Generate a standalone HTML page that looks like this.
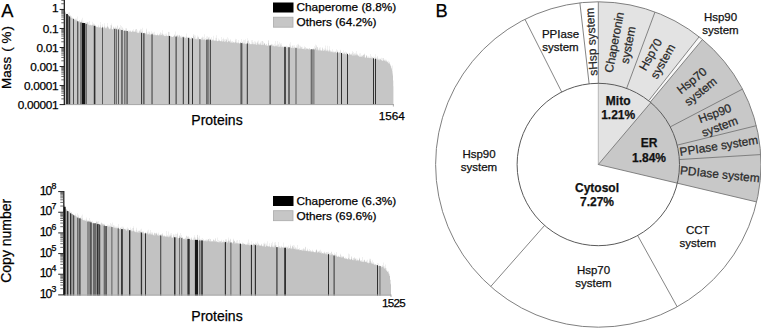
<!DOCTYPE html>
<html><head><meta charset="utf-8"><style>
html,body{margin:0;padding:0;background:#fff;width:761px;height:328px;overflow:hidden;font-family:"Liberation Sans",sans-serif}
svg{display:block} text{stroke-width:0.25px}
</style></head><body>
<svg width="761" height="328" viewBox="0 0 761 328">
<rect width="761" height="328" fill="#fff"/>
<path d="M598.30,1.80 A162.7,162.7 0 0 1 699.14,36.82 L648.63,100.78 A81.2,81.2 0 0 0 598.30,83.30 Z" fill="#e3e3e3"/><path d="M699.14,36.82 A162.7,162.7 0 0 1 702.45,39.50 L650.28,102.12 A81.2,81.2 0 0 0 648.63,100.78 Z" fill="#f8f8f8"/><path d="M702.45,39.50 A162.7,162.7 0 0 1 756.64,201.93 L677.32,183.18 A81.2,81.2 0 0 0 650.28,102.12 Z" fill="#c8c8c8"/><path d="M598.3,164.5 L598.30,83.30 A81.2,81.2 0 0 1 650.82,102.57 Z" fill="#e3e3e3"/><path d="M598.3,164.5 L650.82,102.57 A81.2,81.2 0 0 1 677.32,183.18 Z" fill="#c8c8c8"/><line x1="598.30" y1="83.30" x2="598.30" y2="1.80" stroke="#777" stroke-width="0.9"/><line x1="626.60" y1="88.39" x2="655.01" y2="12.00" stroke="#777" stroke-width="0.9"/><line x1="648.63" y1="100.78" x2="699.14" y2="36.82" stroke="#777" stroke-width="0.9"/><line x1="650.28" y1="102.12" x2="702.45" y2="39.50" stroke="#777" stroke-width="0.9"/><line x1="670.26" y1="126.88" x2="742.49" y2="89.12" stroke="#777" stroke-width="0.9"/><line x1="677.16" y1="145.13" x2="756.30" y2="125.69" stroke="#777" stroke-width="0.9"/><line x1="679.35" y1="159.54" x2="760.70" y2="154.57" stroke="#777" stroke-width="0.9"/><line x1="677.32" y1="183.18" x2="756.64" y2="201.93" stroke="#777" stroke-width="0.9"/><line x1="637.67" y1="235.52" x2="677.18" y2="306.80" stroke="#777" stroke-width="0.9"/><line x1="544.60" y1="225.41" x2="490.70" y2="286.54" stroke="#777" stroke-width="0.9"/><line x1="561.69" y1="92.02" x2="524.94" y2="19.28" stroke="#777" stroke-width="0.9"/><line x1="589.11" y1="83.82" x2="579.88" y2="2.85" stroke="#777" stroke-width="0.9"/><line x1="598.3" y1="164.5" x2="598.30" y2="83.30" stroke="#a0a0a0" stroke-width="0.7"/><line x1="598.3" y1="164.5" x2="650.82" y2="102.57" stroke="#6a6a6a" stroke-width="0.8"/><line x1="598.3" y1="164.5" x2="677.32" y2="183.18" stroke="#6a6a6a" stroke-width="0.8"/><circle cx="598.3" cy="164.5" r="162.7" fill="none" stroke="#808080" stroke-width="1"/><circle cx="598.3" cy="164.5" r="81.2" fill="none" stroke="#5a5a5a" stroke-width="1"/><g transform="translate(591.33,41.70) rotate(266.75)"><text x="0" y="4.28" text-anchor="middle" font-size="11.9" fill="#2a2a2a" stroke="#2a2a2a" font-family="Liberation Sans, sans-serif">sHsp system</text></g><g transform="translate(620.93,43.60) rotate(-79.40)"><text x="0" y="-2.72" text-anchor="middle" font-size="11.9" fill="#2a2a2a" stroke="#2a2a2a" font-family="Liberation Sans, sans-serif">Chaperonin</text><text x="0" y="11.28" text-anchor="middle" font-size="11.9" fill="#2a2a2a" stroke="#2a2a2a" font-family="Liberation Sans, sans-serif">system</text></g><g transform="translate(656.46,57.83) rotate(-60.50)"><text x="0" y="-2.72" text-anchor="middle" font-size="11.9" fill="#2a2a2a" stroke="#2a2a2a" font-family="Liberation Sans, sans-serif">Hsp70</text><text x="0" y="11.28" text-anchor="middle" font-size="11.9" fill="#2a2a2a" stroke="#2a2a2a" font-family="Liberation Sans, sans-serif">system</text></g><g transform="translate(696.03,85.92) rotate(-38.80)"><text x="0" y="-2.72" text-anchor="middle" font-size="11.9" fill="#2a2a2a" stroke="#2a2a2a" font-family="Liberation Sans, sans-serif">Hsp70</text><text x="0" y="11.28" text-anchor="middle" font-size="11.9" fill="#2a2a2a" stroke="#2a2a2a" font-family="Liberation Sans, sans-serif">system</text></g><g transform="translate(717.18,119.82) rotate(-20.60)"><text x="0" y="-2.72" text-anchor="middle" font-size="11.9" fill="#2a2a2a" stroke="#2a2a2a" font-family="Liberation Sans, sans-serif">Hsp90</text><text x="0" y="11.28" text-anchor="middle" font-size="11.9" fill="#2a2a2a" stroke="#2a2a2a" font-family="Liberation Sans, sans-serif">system</text></g><g transform="translate(718.83,145.63) rotate(-8.90)"><text x="0" y="4.28" text-anchor="middle" font-size="11.9" fill="#2a2a2a" stroke="#2a2a2a" font-family="Liberation Sans, sans-serif">PPIase system</text></g><g transform="translate(719.92,174.07) rotate(5.80)"><text x="0" y="4.28" text-anchor="middle" font-size="11.9" fill="#2a2a2a" stroke="#2a2a2a" font-family="Liberation Sans, sans-serif">PDIase system</text></g><text x="560.5" y="37.7" text-anchor="middle" font-size="11.5" fill="#111" stroke="#111" font-family="Liberation Sans, sans-serif">PPIase</text><text x="560.5" y="50.5" text-anchor="middle" font-size="11.5" fill="#111" stroke="#111" font-family="Liberation Sans, sans-serif">system</text><text x="720.5" y="20.8" text-anchor="middle" font-size="11.5" fill="#111" stroke="#111" font-family="Liberation Sans, sans-serif">Hsp90</text><text x="720.5" y="33.6" text-anchor="middle" font-size="11.5" fill="#111" stroke="#111" font-family="Liberation Sans, sans-serif">system</text><text x="479" y="157.7" text-anchor="middle" font-size="11.5" fill="#111" stroke="#111" font-family="Liberation Sans, sans-serif">Hsp90</text><text x="479" y="171.1" text-anchor="middle" font-size="11.5" fill="#111" stroke="#111" font-family="Liberation Sans, sans-serif">system</text><text x="593.5" y="273.9" text-anchor="middle" font-size="11.5" fill="#111" stroke="#111" font-family="Liberation Sans, sans-serif">Hsp70</text><text x="593.5" y="287.3" text-anchor="middle" font-size="11.5" fill="#111" stroke="#111" font-family="Liberation Sans, sans-serif">system</text><text x="697.8" y="233.9" text-anchor="middle" font-size="11.5" fill="#111" stroke="#111" font-family="Liberation Sans, sans-serif">CCT</text><text x="697.8" y="247.3" text-anchor="middle" font-size="11.5" fill="#111" stroke="#111" font-family="Liberation Sans, sans-serif">system</text><text x="618.2" y="104.7" text-anchor="middle" font-size="12" fill="#111" stroke="#111" font-weight="bold" font-family="Liberation Sans, sans-serif">Mito</text><text x="618.2" y="118.8" text-anchor="middle" font-size="12" fill="#111" stroke="#111" font-weight="bold" font-family="Liberation Sans, sans-serif">1.21%</text><text x="649" y="147.4" text-anchor="middle" font-size="12" fill="#111" stroke="#111" font-weight="bold" font-family="Liberation Sans, sans-serif">ER</text><text x="649" y="162.4" text-anchor="middle" font-size="12" fill="#111" stroke="#111" font-weight="bold" font-family="Liberation Sans, sans-serif">1.84%</text><text x="597" y="192.2" text-anchor="middle" font-size="12" fill="#111" stroke="#111" font-weight="bold" font-family="Liberation Sans, sans-serif">Cytosol</text><text x="597" y="206.4" text-anchor="middle" font-size="12" fill="#111" stroke="#111" font-weight="bold" font-family="Liberation Sans, sans-serif">7.27%</text>
<g shape-rendering="auto"><path fill="#c6c6c6" d="M64.50,105 L64.50,11.05 L64.75,11.05 L64.75,11.75 L65.00,11.75 L65.00,10.88 L65.25,10.88 L65.25,12.62 L65.50,12.62 L65.50,12.03 L65.75,12.03 L65.75,12.91 L66.00,12.91 L66.00,13.92 L66.25,13.92 L66.25,13.24 L66.50,13.24 L66.50,14.41 L66.75,14.41 L66.75,13.90 L67.00,13.90 L67.00,14.82 L67.25,14.82 L67.25,15.02 L67.50,15.02 L67.50,14.61 L67.75,14.61 L67.75,13.16 L68.00,13.16 L68.00,15.66 L68.25,15.66 L68.25,15.73 L68.50,15.73 L68.50,14.93 L68.75,14.93 L68.75,12.41 L69.00,12.41 L69.00,15.57 L69.25,15.57 L69.25,16.30 L69.50,16.30 L69.50,12.00 L69.75,12.00 L69.75,17.40 L70.00,17.40 L70.00,14.96 L70.25,14.96 L70.25,17.37 L70.50,17.37 L70.50,17.78 L70.75,17.78 L70.75,17.97 L71.00,17.97 L71.00,17.78 L71.25,17.78 L71.25,16.08 L71.50,16.08 L71.50,18.32 L71.75,18.32 L71.75,17.53 L72.00,17.53 L72.00,17.47 L72.25,17.47 L72.25,18.40 L72.50,18.40 L72.50,18.09 L72.75,18.09 L72.75,19.26 L73.00,19.26 L73.00,19.41 L73.25,19.41 L73.25,19.33 L73.50,19.33 L73.50,18.20 L73.75,18.20 L73.75,19.17 L74.00,19.17 L74.00,19.57 L74.25,19.57 L74.25,19.02 L74.50,19.02 L74.50,19.55 L74.75,19.55 L74.75,20.05 L75.00,20.05 L75.00,18.49 L75.25,18.49 L75.25,19.17 L75.50,19.17 L75.50,20.61 L75.75,20.61 L75.75,19.95 L76.00,19.95 L76.00,20.26 L76.25,20.26 L76.25,18.54 L76.50,18.54 L76.50,19.77 L76.75,19.77 L76.75,21.27 L77.00,21.27 L77.00,16.41 L77.25,16.41 L77.25,21.83 L77.50,21.83 L77.50,21.36 L77.75,21.36 L77.75,20.24 L78.00,20.24 L78.00,22.10 L78.25,22.10 L78.25,21.50 L78.50,21.50 L78.50,22.49 L78.75,22.49 L78.75,21.11 L79.00,21.11 L79.00,20.74 L79.25,20.74 L79.25,21.68 L79.50,21.68 L79.50,20.07 L79.75,20.07 L79.75,22.56 L80.00,22.56 L80.00,21.54 L80.25,21.54 L80.25,21.99 L80.50,21.99 L80.50,22.09 L80.75,22.09 L80.75,22.50 L81.00,22.50 L81.00,20.83 L81.25,20.83 L81.25,19.40 L81.50,19.40 L81.50,22.60 L81.75,22.60 L81.75,22.02 L82.00,22.02 L82.00,23.51 L82.25,23.51 L82.25,21.96 L82.50,21.96 L82.50,22.24 L82.75,22.24 L82.75,17.75 L83.00,17.75 L83.00,21.38 L83.25,21.38 L83.25,23.38 L83.50,23.38 L83.50,23.22 L83.75,23.22 L83.75,22.40 L84.00,22.40 L84.00,23.97 L84.25,23.97 L84.25,23.22 L84.50,23.22 L84.50,23.91 L84.75,23.91 L84.75,24.08 L85.00,24.08 L85.00,24.25 L85.25,24.25 L85.25,22.37 L85.50,22.37 L85.50,24.31 L85.75,24.31 L85.75,24.19 L86.00,24.19 L86.00,23.97 L86.25,23.97 L86.25,21.88 L86.50,21.88 L86.50,24.72 L86.75,24.72 L86.75,24.08 L87.00,24.08 L87.00,23.88 L87.25,23.88 L87.25,22.04 L87.50,22.04 L87.50,22.70 L87.75,22.70 L87.75,22.36 L88.00,22.36 L88.00,24.74 L88.25,24.74 L88.25,24.50 L88.50,24.50 L88.50,24.68 L88.75,24.68 L88.75,22.33 L89.00,22.33 L89.00,20.97 L89.25,20.97 L89.25,25.22 L89.50,25.22 L89.50,25.23 L89.75,25.23 L89.75,25.18 L90.00,25.18 L90.00,25.23 L90.25,25.23 L90.25,24.73 L90.50,24.73 L90.50,24.47 L90.75,24.47 L90.75,25.35 L91.00,25.35 L91.00,25.83 L91.25,25.83 L91.25,25.14 L91.50,25.14 L91.50,25.31 L91.75,25.31 L91.75,24.85 L92.00,24.85 L92.00,21.80 L92.25,21.80 L92.25,24.50 L92.50,24.50 L92.50,25.19 L92.75,25.19 L92.75,24.91 L93.00,24.91 L93.00,24.74 L93.25,24.74 L93.25,26.30 L93.50,26.30 L93.50,23.22 L93.75,23.22 L93.75,24.38 L94.00,24.38 L94.00,23.65 L94.25,23.65 L94.25,24.38 L94.50,24.38 L94.50,25.98 L94.75,25.98 L94.75,26.03 L95.00,26.03 L95.00,26.65 L95.25,26.65 L95.25,25.45 L95.50,25.45 L95.50,26.83 L95.75,26.83 L95.75,26.88 L96.00,26.88 L96.00,26.71 L96.25,26.71 L96.25,26.85 L96.50,26.85 L96.50,26.58 L96.75,26.58 L96.75,27.14 L97.00,27.14 L97.00,27.28 L97.25,27.28 L97.25,27.11 L97.50,27.11 L97.50,27.25 L97.75,27.25 L97.75,26.83 L98.00,26.83 L98.00,27.48 L98.25,27.48 L98.25,24.68 L98.50,24.68 L98.50,26.31 L98.75,26.31 L98.75,27.47 L99.00,27.47 L99.00,27.35 L99.25,27.35 L99.25,27.22 L99.50,27.22 L99.50,27.25 L99.75,27.25 L99.75,27.76 L100.00,27.76 L100.00,25.35 L100.25,25.35 L100.25,22.03 L100.50,22.03 L100.50,27.18 L100.75,27.18 L100.75,27.16 L101.00,27.16 L101.00,27.99 L101.25,27.99 L101.25,28.00 L101.50,28.00 L101.50,27.59 L101.75,27.59 L101.75,27.78 L102.00,27.78 L102.00,25.77 L102.25,25.77 L102.25,28.02 L102.50,28.02 L102.50,28.27 L102.75,28.27 L102.75,24.11 L103.00,24.11 L103.00,27.31 L103.25,27.31 L103.25,28.17 L103.50,28.17 L103.50,27.32 L103.75,27.32 L103.75,28.41 L104.00,28.41 L104.00,27.43 L104.25,27.43 L104.25,23.13 L104.50,23.13 L104.50,25.75 L104.75,25.75 L104.75,26.90 L105.00,26.90 L105.00,28.18 L105.25,28.18 L105.25,28.00 L105.50,28.00 L105.50,28.41 L105.75,28.41 L105.75,26.64 L106.00,26.64 L106.00,27.68 L106.25,27.68 L106.25,26.66 L106.50,26.66 L106.50,28.25 L106.75,28.25 L106.75,28.49 L107.00,28.49 L107.00,26.54 L107.25,26.54 L107.25,23.04 L107.50,23.04 L107.50,26.27 L107.75,26.27 L107.75,26.69 L108.00,26.69 L108.00,26.63 L108.25,26.63 L108.25,27.17 L108.50,27.17 L108.50,28.73 L108.75,28.73 L108.75,28.10 L109.00,28.10 L109.00,28.54 L109.25,28.54 L109.25,29.15 L109.50,29.15 L109.50,29.19 L109.75,29.19 L109.75,28.81 L110.00,28.81 L110.00,28.88 L110.25,28.88 L110.25,27.68 L110.50,27.68 L110.50,24.97 L110.75,24.97 L110.75,28.56 L111.00,28.56 L111.00,25.55 L111.25,25.55 L111.25,23.45 L111.50,23.45 L111.50,25.14 L111.75,25.14 L111.75,28.88 L112.00,28.88 L112.00,29.19 L112.25,29.19 L112.25,29.21 L112.50,29.21 L112.50,29.29 L112.75,29.29 L112.75,29.31 L113.00,29.31 L113.00,28.29 L113.25,28.29 L113.25,26.46 L113.50,26.46 L113.50,27.15 L113.75,27.15 L113.75,28.84 L114.00,28.84 L114.00,28.30 L114.25,28.30 L114.25,27.56 L114.50,27.56 L114.50,29.72 L114.75,29.72 L114.75,28.36 L115.00,28.36 L115.00,26.53 L115.25,26.53 L115.25,27.80 L115.50,27.80 L115.50,28.02 L115.75,28.02 L115.75,29.08 L116.00,29.08 L116.00,29.74 L116.25,29.74 L116.25,27.87 L116.50,27.87 L116.50,29.51 L116.75,29.51 L116.75,27.85 L117.00,27.85 L117.00,25.15 L117.25,25.15 L117.25,29.46 L117.50,29.46 L117.50,29.48 L117.75,29.48 L117.75,26.12 L118.00,26.12 L118.00,28.45 L118.25,28.45 L118.25,30.03 L118.50,30.03 L118.50,30.13 L118.75,30.13 L118.75,30.12 L119.00,30.12 L119.00,27.09 L119.25,27.09 L119.25,28.11 L119.50,28.11 L119.50,30.22 L119.75,30.22 L119.75,28.02 L120.00,28.02 L120.00,25.00 L120.25,25.00 L120.25,29.06 L120.50,29.06 L120.50,30.01 L120.75,30.01 L120.75,29.55 L121.00,29.55 L121.00,30.52 L121.25,30.52 L121.25,30.75 L121.50,30.75 L121.50,25.88 L121.75,25.88 L121.75,29.42 L122.00,29.42 L122.00,29.89 L122.25,29.89 L122.25,27.20 L122.50,27.20 L122.50,30.25 L122.75,30.25 L122.75,28.23 L123.00,28.23 L123.00,28.71 L123.25,28.71 L123.25,30.88 L123.50,30.88 L123.50,30.86 L123.75,30.86 L123.75,30.84 L124.00,30.84 L124.00,30.99 L124.25,30.99 L124.25,30.20 L124.50,30.20 L124.50,31.07 L124.75,31.07 L124.75,30.78 L125.00,30.78 L125.00,31.40 L125.25,31.40 L125.25,28.26 L125.50,28.26 L125.50,31.06 L125.75,31.06 L125.75,30.85 L126.00,30.85 L126.00,30.51 L126.25,30.51 L126.25,28.49 L126.50,28.49 L126.50,31.05 L126.75,31.05 L126.75,28.35 L127.00,28.35 L127.00,30.90 L127.25,30.90 L127.25,30.85 L127.50,30.85 L127.50,30.91 L127.75,30.91 L127.75,31.96 L128.00,31.96 L128.00,31.21 L128.25,31.21 L128.25,31.77 L128.50,31.77 L128.50,32.08 L128.75,32.08 L128.75,29.88 L129.00,29.88 L129.00,31.90 L129.25,31.90 L129.25,31.30 L129.50,31.30 L129.50,30.42 L129.75,30.42 L129.75,31.13 L130.00,31.13 L130.00,31.75 L130.25,31.75 L130.25,31.30 L130.50,31.30 L130.50,31.22 L130.75,31.22 L130.75,30.24 L131.00,30.24 L131.00,32.25 L131.25,32.25 L131.25,31.29 L131.50,31.29 L131.50,32.07 L131.75,32.07 L131.75,32.04 L132.00,32.04 L132.00,30.45 L132.25,30.45 L132.25,31.56 L132.50,31.56 L132.50,31.42 L132.75,31.42 L132.75,30.60 L133.00,30.60 L133.00,29.22 L133.25,29.22 L133.25,31.84 L133.50,31.84 L133.50,31.36 L133.75,31.36 L133.75,31.73 L134.00,31.73 L134.00,31.74 L134.25,31.74 L134.25,31.12 L134.50,31.12 L134.50,31.95 L134.75,31.95 L134.75,31.76 L135.00,31.76 L135.00,31.94 L135.25,31.94 L135.25,28.90 L135.50,28.90 L135.50,31.22 L135.75,31.22 L135.75,30.00 L136.00,30.00 L136.00,28.97 L136.25,28.97 L136.25,32.57 L136.50,32.57 L136.50,31.87 L136.75,31.87 L136.75,29.03 L137.00,29.03 L137.00,30.50 L137.25,30.50 L137.25,32.89 L137.50,32.89 L137.50,32.94 L137.75,32.94 L137.75,32.34 L138.00,32.34 L138.00,33.07 L138.25,33.07 L138.25,32.82 L138.50,32.82 L138.50,33.13 L138.75,33.13 L138.75,31.71 L139.00,31.71 L139.00,31.14 L139.25,31.14 L139.25,30.13 L139.50,30.13 L139.50,33.11 L139.75,33.11 L139.75,31.61 L140.00,31.61 L140.00,31.89 L140.25,31.89 L140.25,33.23 L140.50,33.23 L140.50,30.48 L140.75,30.48 L140.75,28.73 L141.00,28.73 L141.00,33.22 L141.25,33.22 L141.25,29.35 L141.50,29.35 L141.50,32.94 L141.75,32.94 L141.75,32.76 L142.00,32.76 L142.00,27.74 L142.25,27.74 L142.25,31.28 L142.50,31.28 L142.50,33.58 L142.75,33.58 L142.75,33.08 L143.00,33.08 L143.00,32.90 L143.25,32.90 L143.25,33.37 L143.50,33.37 L143.50,33.69 L143.75,33.69 L143.75,33.50 L144.00,33.50 L144.00,32.29 L144.25,32.29 L144.25,34.09 L144.50,34.09 L144.50,33.03 L144.75,33.03 L144.75,33.39 L145.00,33.39 L145.00,34.22 L145.25,34.22 L145.25,33.73 L145.50,33.73 L145.50,32.97 L145.75,32.97 L145.75,33.37 L146.00,33.37 L146.00,34.33 L146.25,34.33 L146.25,28.58 L146.50,28.58 L146.50,32.33 L146.75,32.33 L146.75,29.56 L147.00,29.56 L147.00,34.44 L147.25,34.44 L147.25,34.20 L147.50,34.20 L147.50,34.62 L147.75,34.62 L147.75,32.60 L148.00,32.60 L148.00,34.32 L148.25,34.32 L148.25,34.61 L148.50,34.61 L148.50,34.08 L148.75,34.08 L148.75,31.49 L149.00,31.49 L149.00,32.54 L149.25,32.54 L149.25,34.55 L149.50,34.55 L149.50,34.79 L149.75,34.79 L149.75,31.54 L150.00,31.54 L150.00,33.92 L150.25,33.92 L150.25,33.43 L150.50,33.43 L150.50,35.00 L150.75,35.00 L150.75,35.06 L151.00,35.06 L151.00,33.53 L151.25,33.53 L151.25,34.40 L151.50,34.40 L151.50,35.08 L151.75,35.08 L151.75,31.30 L152.00,31.30 L152.00,33.81 L152.25,33.81 L152.25,32.97 L152.50,32.97 L152.50,35.13 L152.75,35.13 L152.75,32.55 L153.00,32.55 L153.00,35.18 L153.25,35.18 L153.25,32.51 L153.50,32.51 L153.50,34.46 L153.75,34.46 L153.75,34.75 L154.00,34.75 L154.00,34.21 L154.25,34.21 L154.25,31.70 L154.50,31.70 L154.50,34.93 L154.75,34.93 L154.75,35.19 L155.00,35.19 L155.00,34.35 L155.25,34.35 L155.25,35.03 L155.50,35.03 L155.50,35.27 L155.75,35.27 L155.75,35.20 L156.00,35.20 L156.00,35.39 L156.25,35.39 L156.25,35.16 L156.50,35.16 L156.50,34.97 L156.75,34.97 L156.75,35.00 L157.00,35.00 L157.00,33.52 L157.25,33.52 L157.25,35.06 L157.50,35.06 L157.50,34.58 L157.75,34.58 L157.75,35.29 L158.00,35.29 L158.00,34.98 L158.25,34.98 L158.25,35.57 L158.50,35.57 L158.50,35.21 L158.75,35.21 L158.75,35.60 L159.00,35.60 L159.00,33.79 L159.25,33.79 L159.25,34.53 L159.50,34.53 L159.50,35.38 L159.75,35.38 L159.75,34.78 L160.00,34.78 L160.00,31.88 L160.25,31.88 L160.25,35.57 L160.50,35.57 L160.50,33.37 L160.75,33.37 L160.75,35.00 L161.00,35.00 L161.00,34.86 L161.25,34.86 L161.25,33.33 L161.50,33.33 L161.50,35.18 L161.75,35.18 L161.75,34.92 L162.00,34.92 L162.00,34.31 L162.25,34.31 L162.25,30.31 L162.50,30.31 L162.50,35.41 L162.75,35.41 L162.75,33.53 L163.00,33.53 L163.00,34.34 L163.25,34.34 L163.25,34.68 L163.50,34.68 L163.50,35.39 L163.75,35.39 L163.75,35.55 L164.00,35.55 L164.00,36.10 L164.25,36.10 L164.25,36.02 L164.50,36.02 L164.50,36.14 L164.75,36.14 L164.75,34.38 L165.00,34.38 L165.00,35.89 L165.25,35.89 L165.25,36.08 L165.50,36.08 L165.50,36.24 L165.75,36.24 L165.75,33.81 L166.00,33.81 L166.00,33.56 L166.25,33.56 L166.25,34.90 L166.50,34.90 L166.50,36.02 L166.75,36.02 L166.75,36.12 L167.00,36.12 L167.00,36.05 L167.25,36.05 L167.25,35.71 L167.50,35.71 L167.50,36.36 L167.75,36.36 L167.75,35.80 L168.00,35.80 L168.00,36.23 L168.25,36.23 L168.25,32.12 L168.50,32.12 L168.50,31.68 L168.75,31.68 L168.75,35.64 L169.00,35.64 L169.00,36.39 L169.25,36.39 L169.25,32.09 L169.50,32.09 L169.50,36.32 L169.75,36.32 L169.75,36.25 L170.00,36.25 L170.00,36.90 L170.25,36.90 L170.25,36.25 L170.50,36.25 L170.50,36.04 L170.75,36.04 L170.75,35.99 L171.00,35.99 L171.00,36.68 L171.25,36.68 L171.25,36.03 L171.50,36.03 L171.50,37.03 L171.75,37.03 L171.75,36.63 L172.00,36.63 L172.00,36.95 L172.25,36.95 L172.25,36.39 L172.50,36.39 L172.50,37.07 L172.75,37.07 L172.75,37.12 L173.00,37.12 L173.00,36.66 L173.25,36.66 L173.25,36.82 L173.50,36.82 L173.50,35.98 L173.75,35.98 L173.75,36.18 L174.00,36.18 L174.00,35.32 L174.25,35.32 L174.25,35.78 L174.50,35.78 L174.50,35.54 L174.75,35.54 L174.75,34.37 L175.00,34.37 L175.00,36.66 L175.25,36.66 L175.25,36.82 L175.50,36.82 L175.50,31.54 L175.75,31.54 L175.75,37.19 L176.00,37.19 L176.00,35.64 L176.25,35.64 L176.25,36.02 L176.50,36.02 L176.50,37.42 L176.75,37.42 L176.75,34.98 L177.00,34.98 L177.00,34.41 L177.25,34.41 L177.25,36.17 L177.50,36.17 L177.50,35.72 L177.75,35.72 L177.75,35.26 L178.00,35.26 L178.00,37.41 L178.25,37.41 L178.25,36.60 L178.50,36.60 L178.50,36.68 L178.75,36.68 L178.75,35.17 L179.00,35.17 L179.00,35.42 L179.25,35.42 L179.25,35.28 L179.50,35.28 L179.50,36.53 L179.75,36.53 L179.75,34.65 L180.00,34.65 L180.00,36.19 L180.25,36.19 L180.25,36.18 L180.50,36.18 L180.50,37.49 L180.75,37.49 L180.75,37.85 L181.00,37.85 L181.00,37.72 L181.25,37.72 L181.25,37.32 L181.50,37.32 L181.50,37.82 L181.75,37.82 L181.75,35.48 L182.00,35.48 L182.00,36.90 L182.25,36.90 L182.25,36.69 L182.50,36.69 L182.50,36.72 L182.75,36.72 L182.75,36.53 L183.00,36.53 L183.00,37.22 L183.25,37.22 L183.25,38.19 L183.50,38.19 L183.50,35.98 L183.75,35.98 L183.75,36.32 L184.00,36.32 L184.00,37.30 L184.25,37.30 L184.25,37.24 L184.50,37.24 L184.50,36.83 L184.75,36.83 L184.75,38.27 L185.00,38.27 L185.00,36.53 L185.25,36.53 L185.25,38.02 L185.50,38.02 L185.50,38.35 L185.75,38.35 L185.75,38.06 L186.00,38.06 L186.00,36.69 L186.25,36.69 L186.25,38.23 L186.50,38.23 L186.50,36.70 L186.75,36.70 L186.75,33.40 L187.00,33.40 L187.00,37.69 L187.25,37.69 L187.25,37.99 L187.50,37.99 L187.50,37.79 L187.75,37.79 L187.75,37.12 L188.00,37.12 L188.00,36.72 L188.25,36.72 L188.25,37.45 L188.50,37.45 L188.50,37.38 L188.75,37.38 L188.75,38.74 L189.00,38.74 L189.00,38.66 L189.25,38.66 L189.25,38.50 L189.50,38.50 L189.50,37.04 L189.75,37.04 L189.75,38.46 L190.00,38.46 L190.00,37.83 L190.25,37.83 L190.25,39.01 L190.50,39.01 L190.50,38.96 L190.75,38.96 L190.75,38.64 L191.00,38.64 L191.00,37.54 L191.25,37.54 L191.25,37.48 L191.50,37.48 L191.50,37.57 L191.75,37.57 L191.75,38.69 L192.00,38.69 L192.00,38.18 L192.25,38.18 L192.25,38.35 L192.50,38.35 L192.50,38.37 L192.75,38.37 L192.75,39.10 L193.00,39.10 L193.00,36.16 L193.25,36.16 L193.25,39.01 L193.50,39.01 L193.50,34.00 L193.75,34.00 L193.75,35.52 L194.00,35.52 L194.00,39.38 L194.25,39.38 L194.25,38.57 L194.50,38.57 L194.50,37.05 L194.75,37.05 L194.75,34.65 L195.00,34.65 L195.00,38.66 L195.25,38.66 L195.25,39.09 L195.50,39.09 L195.50,39.22 L195.75,39.22 L195.75,35.50 L196.00,35.50 L196.00,39.27 L196.25,39.27 L196.25,38.41 L196.50,38.41 L196.50,39.44 L196.75,39.44 L196.75,38.64 L197.00,38.64 L197.00,35.43 L197.25,35.43 L197.25,39.53 L197.50,39.53 L197.50,37.35 L197.75,37.35 L197.75,38.78 L198.00,38.78 L198.00,36.75 L198.25,36.75 L198.25,38.12 L198.50,38.12 L198.50,39.48 L198.75,39.48 L198.75,36.68 L199.00,36.68 L199.00,38.97 L199.25,38.97 L199.25,39.89 L199.50,39.89 L199.50,39.94 L199.75,39.94 L199.75,39.03 L200.00,39.03 L200.00,39.16 L200.25,39.16 L200.25,39.51 L200.50,39.51 L200.50,39.82 L200.75,39.82 L200.75,39.46 L201.00,39.46 L201.00,39.54 L201.25,39.54 L201.25,37.52 L201.50,37.52 L201.50,40.10 L201.75,40.10 L201.75,38.18 L202.00,38.18 L202.00,37.58 L202.25,37.58 L202.25,39.98 L202.50,39.98 L202.50,36.52 L202.75,36.52 L202.75,38.44 L203.00,38.44 L203.00,36.96 L203.25,36.96 L203.25,39.75 L203.50,39.75 L203.50,39.59 L203.75,39.59 L203.75,39.56 L204.00,39.56 L204.00,34.28 L204.25,34.28 L204.25,39.05 L204.50,39.05 L204.50,39.69 L204.75,39.69 L204.75,39.55 L205.00,39.55 L205.00,39.90 L205.25,39.90 L205.25,40.30 L205.50,40.30 L205.50,40.23 L205.75,40.23 L205.75,37.88 L206.00,37.88 L206.00,39.95 L206.25,39.95 L206.25,36.60 L206.50,36.60 L206.50,40.05 L206.75,40.05 L206.75,40.04 L207.00,40.04 L207.00,39.49 L207.25,39.49 L207.25,40.21 L207.50,40.21 L207.50,39.87 L207.75,39.87 L207.75,36.16 L208.00,36.16 L208.00,37.54 L208.25,37.54 L208.25,38.24 L208.50,38.24 L208.50,39.20 L208.75,39.20 L208.75,37.19 L209.00,37.19 L209.00,36.67 L209.25,36.67 L209.25,39.53 L209.50,39.53 L209.50,38.88 L209.75,38.88 L209.75,40.61 L210.00,40.61 L210.00,38.85 L210.25,38.85 L210.25,39.88 L210.50,39.88 L210.50,38.79 L210.75,38.79 L210.75,39.32 L211.00,39.32 L211.00,40.32 L211.25,40.32 L211.25,40.74 L211.50,40.74 L211.50,37.18 L211.75,37.18 L211.75,40.67 L212.00,40.67 L212.00,39.99 L212.25,39.99 L212.25,40.31 L212.50,40.31 L212.50,40.43 L212.75,40.43 L212.75,39.07 L213.00,39.07 L213.00,35.73 L213.25,35.73 L213.25,40.57 L213.50,40.57 L213.50,39.52 L213.75,39.52 L213.75,40.54 L214.00,40.54 L214.00,39.92 L214.25,39.92 L214.25,40.38 L214.50,40.38 L214.50,40.85 L214.75,40.85 L214.75,40.88 L215.00,40.88 L215.00,40.82 L215.25,40.82 L215.25,37.86 L215.50,37.86 L215.50,40.23 L215.75,40.23 L215.75,40.87 L216.00,40.87 L216.00,37.93 L216.25,37.93 L216.25,35.26 L216.50,35.26 L216.50,40.45 L216.75,40.45 L216.75,41.10 L217.00,41.10 L217.00,41.03 L217.25,41.03 L217.25,41.22 L217.50,41.22 L217.50,40.79 L217.75,40.79 L217.75,41.26 L218.00,41.26 L218.00,41.04 L218.25,41.04 L218.25,41.02 L218.50,41.02 L218.50,40.28 L218.75,40.28 L218.75,38.43 L219.00,38.43 L219.00,39.57 L219.25,39.57 L219.25,40.79 L219.50,40.79 L219.50,40.81 L219.75,40.81 L219.75,40.54 L220.00,40.54 L220.00,40.94 L220.25,40.94 L220.25,41.05 L220.50,41.05 L220.50,41.57 L220.75,41.57 L220.75,41.23 L221.00,41.23 L221.00,36.90 L221.25,36.90 L221.25,41.55 L221.50,41.55 L221.50,40.79 L221.75,40.79 L221.75,40.40 L222.00,40.40 L222.00,39.04 L222.25,39.04 L222.25,41.51 L222.50,41.51 L222.50,41.43 L222.75,41.43 L222.75,41.50 L223.00,41.50 L223.00,41.22 L223.25,41.22 L223.25,41.13 L223.50,41.13 L223.50,37.68 L223.75,37.68 L223.75,39.37 L224.00,39.37 L224.00,39.15 L224.25,39.15 L224.25,42.04 L224.50,42.04 L224.50,42.05 L224.75,42.05 L224.75,40.39 L225.00,40.39 L225.00,38.99 L225.25,38.99 L225.25,41.28 L225.50,41.28 L225.50,40.97 L225.75,40.97 L225.75,42.23 L226.00,42.23 L226.00,41.56 L226.25,41.56 L226.25,38.63 L226.50,38.63 L226.50,39.87 L226.75,39.87 L226.75,39.63 L227.00,39.63 L227.00,37.35 L227.25,37.35 L227.25,42.00 L227.50,42.00 L227.50,42.26 L227.75,42.26 L227.75,42.22 L228.00,42.22 L228.00,41.45 L228.25,41.45 L228.25,40.90 L228.50,40.90 L228.50,38.56 L228.75,38.56 L228.75,40.77 L229.00,40.77 L229.00,41.13 L229.25,41.13 L229.25,40.59 L229.50,40.59 L229.50,41.79 L229.75,41.79 L229.75,41.55 L230.00,41.55 L230.00,42.64 L230.25,42.64 L230.25,40.60 L230.50,40.60 L230.50,42.39 L230.75,42.39 L230.75,39.26 L231.00,39.26 L231.00,41.37 L231.25,41.37 L231.25,42.34 L231.50,42.34 L231.50,42.69 L231.75,42.69 L231.75,42.50 L232.00,42.50 L232.00,41.52 L232.25,41.52 L232.25,41.29 L232.50,41.29 L232.50,42.83 L232.75,42.83 L232.75,42.93 L233.00,42.93 L233.00,42.02 L233.25,42.02 L233.25,41.87 L233.50,41.87 L233.50,42.43 L233.75,42.43 L233.75,42.80 L234.00,42.80 L234.00,41.89 L234.25,41.89 L234.25,43.20 L234.50,43.20 L234.50,42.74 L234.75,42.74 L234.75,42.41 L235.00,42.41 L235.00,38.83 L235.25,38.83 L235.25,41.88 L235.50,41.88 L235.50,40.35 L235.75,40.35 L235.75,42.49 L236.00,42.49 L236.00,43.05 L236.25,43.05 L236.25,43.05 L236.50,43.05 L236.50,38.95 L236.75,38.95 L236.75,41.80 L237.00,41.80 L237.00,43.03 L237.25,43.03 L237.25,43.54 L237.50,43.54 L237.50,42.63 L237.75,42.63 L237.75,42.06 L238.00,42.06 L238.00,42.90 L238.25,42.90 L238.25,43.27 L238.50,43.27 L238.50,42.18 L238.75,42.18 L238.75,40.12 L239.00,40.12 L239.00,43.42 L239.25,43.42 L239.25,43.76 L239.50,43.76 L239.50,43.26 L239.75,43.26 L239.75,43.11 L240.00,43.11 L240.00,42.29 L240.25,42.29 L240.25,43.61 L240.50,43.61 L240.50,41.70 L240.75,41.70 L240.75,42.06 L241.00,42.06 L241.00,42.98 L241.25,42.98 L241.25,43.65 L241.50,43.65 L241.50,39.09 L241.75,39.09 L241.75,43.48 L242.00,43.48 L242.00,41.62 L242.25,41.62 L242.25,43.67 L242.50,43.67 L242.50,43.70 L242.75,43.70 L242.75,42.06 L243.00,42.06 L243.00,43.59 L243.25,43.59 L243.25,39.85 L243.50,39.85 L243.50,43.15 L243.75,43.15 L243.75,43.83 L244.00,43.83 L244.00,43.79 L244.25,43.79 L244.25,43.40 L244.50,43.40 L244.50,42.64 L244.75,42.64 L244.75,40.03 L245.00,40.03 L245.00,43.98 L245.25,43.98 L245.25,43.52 L245.50,43.52 L245.50,43.89 L245.75,43.89 L245.75,39.13 L246.00,39.13 L246.00,44.05 L246.25,44.05 L246.25,44.20 L246.50,44.20 L246.50,44.20 L246.75,44.20 L246.75,43.61 L247.00,43.61 L247.00,41.12 L247.25,41.12 L247.25,41.32 L247.50,41.32 L247.50,42.50 L247.75,42.50 L247.75,38.37 L248.00,38.37 L248.00,40.62 L248.25,40.62 L248.25,43.84 L248.50,43.84 L248.50,44.12 L248.75,44.12 L248.75,40.58 L249.00,40.58 L249.00,42.52 L249.25,42.52 L249.25,44.41 L249.50,44.41 L249.50,42.94 L249.75,42.94 L249.75,43.82 L250.00,43.82 L250.00,43.84 L250.25,43.84 L250.25,43.95 L250.50,43.95 L250.50,44.27 L250.75,44.27 L250.75,44.54 L251.00,44.54 L251.00,44.10 L251.25,44.10 L251.25,43.97 L251.50,43.97 L251.50,40.23 L251.75,40.23 L251.75,44.42 L252.00,44.42 L252.00,39.96 L252.25,39.96 L252.25,44.31 L252.50,44.31 L252.50,44.03 L252.75,44.03 L252.75,42.25 L253.00,42.25 L253.00,42.26 L253.25,42.26 L253.25,43.90 L253.50,43.90 L253.50,44.64 L253.75,44.64 L253.75,43.83 L254.00,43.83 L254.00,44.09 L254.25,44.09 L254.25,41.23 L254.50,41.23 L254.50,44.47 L254.75,44.47 L254.75,44.15 L255.00,44.15 L255.00,41.62 L255.25,41.62 L255.25,44.77 L255.50,44.77 L255.50,44.09 L255.75,44.09 L255.75,42.51 L256.00,42.51 L256.00,42.82 L256.25,42.82 L256.25,44.82 L256.50,44.82 L256.50,44.84 L256.75,44.84 L256.75,44.81 L257.00,44.81 L257.00,41.38 L257.25,41.38 L257.25,44.52 L257.50,44.52 L257.50,43.02 L257.75,43.02 L257.75,41.76 L258.00,41.76 L258.00,44.40 L258.25,44.40 L258.25,44.55 L258.50,44.55 L258.50,40.58 L258.75,40.58 L258.75,43.68 L259.00,43.68 L259.00,44.61 L259.25,44.61 L259.25,43.29 L259.50,43.29 L259.50,44.54 L259.75,44.54 L259.75,44.63 L260.00,44.63 L260.00,45.09 L260.25,45.09 L260.25,43.16 L260.50,43.16 L260.50,41.68 L260.75,41.68 L260.75,43.78 L261.00,43.78 L261.00,41.20 L261.25,41.20 L261.25,45.22 L261.50,45.22 L261.50,44.91 L261.75,44.91 L261.75,44.41 L262.00,44.41 L262.00,40.94 L262.25,40.94 L262.25,41.06 L262.50,41.06 L262.50,44.72 L262.75,44.72 L262.75,45.03 L263.00,45.03 L263.00,44.67 L263.25,44.67 L263.25,44.54 L263.50,44.54 L263.50,41.83 L263.75,41.83 L263.75,45.27 L264.00,45.27 L264.00,43.31 L264.25,43.31 L264.25,43.73 L264.50,43.73 L264.50,43.22 L264.75,43.22 L264.75,43.60 L265.00,43.60 L265.00,44.39 L265.25,44.39 L265.25,45.17 L265.50,45.17 L265.50,45.22 L265.75,45.22 L265.75,45.16 L266.00,45.16 L266.00,43.69 L266.25,43.69 L266.25,45.73 L266.50,45.73 L266.50,45.57 L266.75,45.57 L266.75,43.95 L267.00,43.95 L267.00,45.54 L267.25,45.54 L267.25,45.88 L267.50,45.88 L267.50,45.95 L267.75,45.95 L267.75,44.90 L268.00,44.90 L268.00,45.51 L268.25,45.51 L268.25,40.60 L268.50,40.60 L268.50,43.11 L268.75,43.11 L268.75,40.15 L269.00,40.15 L269.00,45.75 L269.25,45.75 L269.25,46.09 L269.50,46.09 L269.50,46.10 L269.75,46.10 L269.75,45.30 L270.00,45.30 L270.00,44.57 L270.25,44.57 L270.25,45.50 L270.50,45.50 L270.50,45.98 L270.75,45.98 L270.75,45.62 L271.00,45.62 L271.00,45.04 L271.25,45.04 L271.25,44.86 L271.50,44.86 L271.50,44.52 L271.75,44.52 L271.75,43.85 L272.00,43.85 L272.00,44.97 L272.25,44.97 L272.25,46.34 L272.50,46.34 L272.50,43.98 L272.75,43.98 L272.75,46.09 L273.00,46.09 L273.00,45.43 L273.25,45.43 L273.25,45.97 L273.50,45.97 L273.50,44.77 L273.75,44.77 L273.75,46.36 L274.00,46.36 L274.00,46.30 L274.25,46.30 L274.25,46.33 L274.50,46.33 L274.50,46.52 L274.75,46.52 L274.75,43.76 L275.00,43.76 L275.00,45.59 L275.25,45.59 L275.25,46.27 L275.50,46.27 L275.50,46.14 L275.75,46.14 L275.75,40.88 L276.00,40.88 L276.00,45.91 L276.25,45.91 L276.25,46.56 L276.50,46.56 L276.50,44.64 L276.75,44.64 L276.75,45.49 L277.00,45.49 L277.00,41.00 L277.25,41.00 L277.25,46.87 L277.50,46.87 L277.50,46.15 L277.75,46.15 L277.75,44.68 L278.00,44.68 L278.00,44.53 L278.25,44.53 L278.25,43.68 L278.50,43.68 L278.50,47.09 L278.75,47.09 L278.75,46.69 L279.00,46.69 L279.00,47.02 L279.25,47.02 L279.25,46.93 L279.50,46.93 L279.50,42.20 L279.75,42.20 L279.75,46.05 L280.00,46.05 L280.00,43.57 L280.25,43.57 L280.25,46.67 L280.50,46.67 L280.50,44.53 L280.75,44.53 L280.75,46.53 L281.00,46.53 L281.00,46.97 L281.25,46.97 L281.25,45.31 L281.50,45.31 L281.50,43.36 L281.75,43.36 L281.75,47.30 L282.00,47.30 L282.00,46.21 L282.25,46.21 L282.25,46.15 L282.50,46.15 L282.50,47.18 L282.75,47.18 L282.75,46.90 L283.00,46.90 L283.00,47.36 L283.25,47.36 L283.25,47.27 L283.50,47.27 L283.50,47.20 L283.75,47.20 L283.75,46.36 L284.00,46.36 L284.00,46.18 L284.25,46.18 L284.25,47.36 L284.50,47.36 L284.50,47.69 L284.75,47.69 L284.75,47.17 L285.00,47.17 L285.00,46.16 L285.25,46.16 L285.25,47.49 L285.50,47.49 L285.50,47.27 L285.75,47.27 L285.75,47.50 L286.00,47.50 L286.00,45.62 L286.25,45.62 L286.25,46.75 L286.50,46.75 L286.50,47.79 L286.75,47.79 L286.75,47.76 L287.00,47.76 L287.00,47.23 L287.25,47.23 L287.25,46.83 L287.50,46.83 L287.50,46.55 L287.75,46.55 L287.75,47.86 L288.00,47.86 L288.00,47.77 L288.25,47.77 L288.25,46.38 L288.50,46.38 L288.50,47.33 L288.75,47.33 L288.75,47.62 L289.00,47.62 L289.00,47.60 L289.25,47.60 L289.25,43.85 L289.50,43.85 L289.50,47.63 L289.75,47.63 L289.75,47.01 L290.00,47.01 L290.00,47.58 L290.25,47.58 L290.25,47.47 L290.50,47.47 L290.50,45.45 L290.75,45.45 L290.75,42.27 L291.00,42.27 L291.00,47.66 L291.25,47.66 L291.25,48.00 L291.50,48.00 L291.50,46.51 L291.75,46.51 L291.75,48.04 L292.00,48.04 L292.00,48.37 L292.25,48.37 L292.25,45.16 L292.50,45.16 L292.50,47.65 L292.75,47.65 L292.75,46.04 L293.00,46.04 L293.00,47.74 L293.25,47.74 L293.25,45.49 L293.50,45.49 L293.50,47.65 L293.75,47.65 L293.75,48.29 L294.00,48.29 L294.00,48.54 L294.25,48.54 L294.25,47.46 L294.50,47.46 L294.50,47.17 L294.75,47.17 L294.75,45.26 L295.00,45.26 L295.00,48.52 L295.25,48.52 L295.25,47.31 L295.50,47.31 L295.50,48.05 L295.75,48.05 L295.75,47.73 L296.00,47.73 L296.00,48.52 L296.25,48.52 L296.25,48.30 L296.50,48.30 L296.50,47.75 L296.75,47.75 L296.75,45.17 L297.00,45.17 L297.00,48.67 L297.25,48.67 L297.25,47.91 L297.50,47.91 L297.50,46.59 L297.75,46.59 L297.75,44.13 L298.00,44.13 L298.00,48.61 L298.25,48.61 L298.25,48.75 L298.50,48.75 L298.50,44.95 L298.75,44.95 L298.75,43.79 L299.00,43.79 L299.00,48.09 L299.25,48.09 L299.25,48.96 L299.50,48.96 L299.50,45.41 L299.75,45.41 L299.75,48.39 L300.00,48.39 L300.00,45.82 L300.25,45.82 L300.25,47.77 L300.50,47.77 L300.50,46.71 L300.75,46.71 L300.75,48.93 L301.00,48.93 L301.00,47.04 L301.25,47.04 L301.25,48.87 L301.50,48.87 L301.50,48.52 L301.75,48.52 L301.75,46.65 L302.00,46.65 L302.00,46.83 L302.25,46.83 L302.25,49.04 L302.50,49.04 L302.50,49.01 L302.75,49.01 L302.75,48.66 L303.00,48.66 L303.00,48.38 L303.25,48.38 L303.25,48.75 L303.50,48.75 L303.50,49.27 L303.75,49.27 L303.75,49.08 L304.00,49.08 L304.00,47.69 L304.25,47.69 L304.25,46.34 L304.50,46.34 L304.50,49.49 L304.75,49.49 L304.75,48.42 L305.00,48.42 L305.00,47.62 L305.25,47.62 L305.25,49.57 L305.50,49.57 L305.50,47.10 L305.75,47.10 L305.75,49.50 L306.00,49.50 L306.00,48.42 L306.25,48.42 L306.25,48.61 L306.50,48.61 L306.50,48.37 L306.75,48.37 L306.75,49.26 L307.00,49.26 L307.00,49.04 L307.25,49.04 L307.25,48.60 L307.50,48.60 L307.50,49.07 L307.75,49.07 L307.75,48.37 L308.00,48.37 L308.00,49.07 L308.25,49.07 L308.25,49.12 L308.50,49.12 L308.50,49.92 L308.75,49.92 L308.75,48.62 L309.00,48.62 L309.00,49.06 L309.25,49.06 L309.25,49.65 L309.50,49.65 L309.50,48.03 L309.75,48.03 L309.75,47.96 L310.00,47.96 L310.00,49.24 L310.25,49.24 L310.25,49.84 L310.50,49.84 L310.50,49.24 L310.75,49.24 L310.75,49.99 L311.00,49.99 L311.00,49.98 L311.25,49.98 L311.25,49.40 L311.50,49.40 L311.50,50.07 L311.75,50.07 L311.75,49.41 L312.00,49.41 L312.00,49.24 L312.25,49.24 L312.25,50.20 L312.50,50.20 L312.50,48.86 L312.75,48.86 L312.75,50.17 L313.00,50.17 L313.00,48.46 L313.25,48.46 L313.25,48.22 L313.50,48.22 L313.50,49.34 L313.75,49.34 L313.75,50.28 L314.00,50.28 L314.00,49.40 L314.25,49.40 L314.25,49.73 L314.50,49.73 L314.50,46.20 L314.75,46.20 L314.75,50.23 L315.00,50.23 L315.00,47.73 L315.25,47.73 L315.25,44.47 L315.50,44.47 L315.50,48.64 L315.75,48.64 L315.75,48.14 L316.00,48.14 L316.00,50.22 L316.25,50.22 L316.25,44.93 L316.50,44.93 L316.50,49.61 L316.75,49.61 L316.75,46.18 L317.00,46.18 L317.00,47.12 L317.25,47.12 L317.25,50.35 L317.50,50.35 L317.50,48.45 L317.75,48.45 L317.75,46.91 L318.00,46.91 L318.00,50.57 L318.25,50.57 L318.25,50.07 L318.50,50.07 L318.50,48.72 L318.75,48.72 L318.75,50.47 L319.00,50.47 L319.00,47.55 L319.25,47.55 L319.25,50.30 L319.50,50.30 L319.50,48.40 L319.75,48.40 L319.75,50.57 L320.00,50.57 L320.00,49.82 L320.25,49.82 L320.25,47.30 L320.50,47.30 L320.50,50.54 L320.75,50.54 L320.75,50.47 L321.00,50.47 L321.00,49.94 L321.25,49.94 L321.25,50.42 L321.50,50.42 L321.50,50.94 L321.75,50.94 L321.75,50.75 L322.00,50.75 L322.00,50.81 L322.25,50.81 L322.25,47.24 L322.50,47.24 L322.50,49.53 L322.75,49.53 L322.75,48.00 L323.00,48.00 L323.00,50.93 L323.25,50.93 L323.25,49.07 L323.50,49.07 L323.50,51.08 L323.75,51.08 L323.75,50.23 L324.00,50.23 L324.00,49.90 L324.25,49.90 L324.25,50.73 L324.50,50.73 L324.50,48.50 L324.75,48.50 L324.75,50.28 L325.00,50.28 L325.00,50.24 L325.25,50.24 L325.25,48.48 L325.50,48.48 L325.50,51.36 L325.75,51.36 L325.75,45.55 L326.00,45.55 L326.00,50.19 L326.25,50.19 L326.25,50.91 L326.50,50.91 L326.50,49.41 L326.75,49.41 L326.75,51.25 L327.00,51.25 L327.00,45.71 L327.25,45.71 L327.25,50.54 L327.50,50.54 L327.50,51.15 L327.75,51.15 L327.75,49.78 L328.00,49.78 L328.00,51.02 L328.25,51.02 L328.25,51.60 L328.50,51.60 L328.50,50.00 L328.75,50.00 L328.75,51.87 L329.00,51.87 L329.00,49.57 L329.25,49.57 L329.25,51.59 L329.50,51.59 L329.50,50.61 L329.75,50.61 L329.75,46.27 L330.00,46.27 L330.00,50.87 L330.25,50.87 L330.25,50.61 L330.50,50.61 L330.50,51.65 L330.75,51.65 L330.75,52.21 L331.00,52.21 L331.00,52.20 L331.25,52.20 L331.25,52.06 L331.50,52.06 L331.50,50.98 L331.75,50.98 L331.75,51.57 L332.00,51.57 L332.00,51.39 L332.25,51.39 L332.25,49.27 L332.50,49.27 L332.50,52.28 L332.75,52.28 L332.75,52.15 L333.00,52.15 L333.00,51.07 L333.25,51.07 L333.25,52.56 L333.50,52.56 L333.50,52.62 L333.75,52.62 L333.75,52.05 L334.00,52.05 L334.00,52.54 L334.25,52.54 L334.25,52.12 L334.50,52.12 L334.50,52.42 L334.75,52.42 L334.75,51.59 L335.00,51.59 L335.00,51.60 L335.25,51.60 L335.25,52.57 L335.50,52.57 L335.50,51.56 L335.75,51.56 L335.75,52.06 L336.00,52.06 L336.00,52.80 L336.25,52.80 L336.25,49.18 L336.50,49.18 L336.50,52.68 L336.75,52.68 L336.75,52.89 L337.00,52.89 L337.00,53.01 L337.25,53.01 L337.25,51.76 L337.50,51.76 L337.50,50.35 L337.75,50.35 L337.75,51.13 L338.00,51.13 L338.00,52.58 L338.25,52.58 L338.25,52.91 L338.50,52.91 L338.50,53.36 L338.75,53.36 L338.75,51.96 L339.00,51.96 L339.00,52.29 L339.25,52.29 L339.25,52.88 L339.50,52.88 L339.50,52.07 L339.75,52.07 L339.75,52.74 L340.00,52.74 L340.00,49.73 L340.25,49.73 L340.25,51.79 L340.50,51.79 L340.50,53.29 L340.75,53.29 L340.75,50.46 L341.00,50.46 L341.00,53.72 L341.25,53.72 L341.25,52.76 L341.50,52.76 L341.50,53.14 L341.75,53.14 L341.75,53.54 L342.00,53.54 L342.00,53.88 L342.25,53.88 L342.25,51.89 L342.50,51.89 L342.50,54.03 L342.75,54.03 L342.75,52.97 L343.00,52.97 L343.00,50.18 L343.25,50.18 L343.25,53.97 L343.50,53.97 L343.50,53.92 L343.75,53.92 L343.75,52.96 L344.00,52.96 L344.00,53.33 L344.25,53.33 L344.25,52.93 L344.50,52.93 L344.50,52.06 L344.75,52.06 L344.75,54.19 L345.00,54.19 L345.00,53.98 L345.25,53.98 L345.25,54.05 L345.50,54.05 L345.50,54.52 L345.75,54.52 L345.75,51.55 L346.00,51.55 L346.00,52.54 L346.25,52.54 L346.25,52.97 L346.50,52.97 L346.50,54.76 L346.75,54.76 L346.75,52.21 L347.00,52.21 L347.00,52.95 L347.25,52.95 L347.25,54.03 L347.50,54.03 L347.50,53.05 L347.75,53.05 L347.75,54.15 L348.00,54.15 L348.00,54.68 L348.25,54.68 L348.25,54.93 L348.50,54.93 L348.50,54.76 L348.75,54.76 L348.75,55.12 L349.00,55.12 L349.00,54.65 L349.25,54.65 L349.25,53.33 L349.50,53.33 L349.50,53.65 L349.75,53.65 L349.75,52.74 L350.00,52.74 L350.00,53.66 L350.25,53.66 L350.25,55.00 L350.50,55.00 L350.50,54.35 L350.75,54.35 L350.75,54.71 L351.00,54.71 L351.00,53.38 L351.25,53.38 L351.25,54.55 L351.50,54.55 L351.50,55.19 L351.75,55.19 L351.75,54.22 L352.00,54.22 L352.00,51.00 L352.25,51.00 L352.25,55.40 L352.50,55.40 L352.50,52.81 L352.75,52.81 L352.75,55.79 L353.00,55.79 L353.00,55.43 L353.25,55.43 L353.25,55.51 L353.50,55.51 L353.50,54.02 L353.75,54.02 L353.75,51.91 L354.00,51.91 L354.00,54.08 L354.25,54.08 L354.25,55.48 L354.50,55.48 L354.50,53.10 L354.75,53.10 L354.75,55.55 L355.00,55.55 L355.00,55.77 L355.25,55.77 L355.25,52.85 L355.50,52.85 L355.50,54.83 L355.75,54.83 L355.75,54.61 L356.00,54.61 L356.00,54.77 L356.25,54.77 L356.25,50.93 L356.50,50.93 L356.50,55.49 L356.75,55.49 L356.75,53.85 L357.00,53.85 L357.00,54.78 L357.25,54.78 L357.25,53.76 L357.50,53.76 L357.50,55.72 L357.75,55.72 L357.75,54.76 L358.00,54.76 L358.00,55.42 L358.25,55.42 L358.25,56.12 L358.50,56.12 L358.50,56.34 L358.75,56.34 L358.75,55.35 L359.00,55.35 L359.00,56.64 L359.25,56.64 L359.25,53.40 L359.50,53.40 L359.50,56.61 L359.75,56.61 L359.75,56.82 L360.00,56.82 L360.00,56.74 L360.25,56.74 L360.25,53.24 L360.50,53.24 L360.50,56.39 L360.75,56.39 L360.75,56.81 L361.00,56.81 L361.00,57.02 L361.25,57.02 L361.25,57.04 L361.50,57.04 L361.50,55.49 L361.75,55.49 L361.75,55.77 L362.00,55.77 L362.00,55.55 L362.25,55.55 L362.25,55.39 L362.50,55.39 L362.50,57.20 L362.75,57.20 L362.75,56.09 L363.00,56.09 L363.00,56.75 L363.25,56.75 L363.25,55.04 L363.50,55.04 L363.50,55.06 L363.75,55.06 L363.75,54.39 L364.00,54.39 L364.00,57.44 L364.25,57.44 L364.25,54.75 L364.50,54.75 L364.50,54.18 L364.75,54.18 L364.75,53.62 L365.00,53.62 L365.00,57.54 L365.25,57.54 L365.25,57.42 L365.50,57.42 L365.50,57.61 L365.75,57.61 L365.75,57.77 L366.00,57.77 L366.00,55.23 L366.25,55.23 L366.25,55.56 L366.50,55.56 L366.50,56.53 L366.75,56.53 L366.75,55.54 L367.00,55.54 L367.00,56.62 L367.25,56.62 L367.25,57.59 L367.50,57.59 L367.50,57.95 L367.75,57.95 L367.75,58.00 L368.00,58.00 L368.00,56.20 L368.25,56.20 L368.25,57.90 L368.50,57.90 L368.50,57.72 L368.75,57.72 L368.75,57.53 L369.00,57.53 L369.00,58.31 L369.25,58.31 L369.25,57.96 L369.50,57.96 L369.50,57.96 L369.75,57.96 L369.75,56.70 L370.00,56.70 L370.00,57.86 L370.25,57.86 L370.25,58.01 L370.50,58.01 L370.50,53.95 L370.75,53.95 L370.75,57.68 L371.00,57.68 L371.00,56.04 L371.25,56.04 L371.25,57.41 L371.50,57.41 L371.50,58.77 L371.75,58.77 L371.75,58.12 L372.00,58.12 L372.00,58.12 L372.25,58.12 L372.25,56.90 L372.50,56.90 L372.50,58.43 L372.75,58.43 L372.75,57.37 L373.00,57.37 L373.00,58.05 L373.25,58.05 L373.25,58.84 L373.50,58.84 L373.50,56.46 L373.75,56.46 L373.75,59.15 L374.00,59.15 L374.00,56.94 L374.25,56.94 L374.25,59.13 L374.50,59.13 L374.50,59.44 L374.75,59.44 L374.75,59.18 L375.00,59.18 L375.00,57.54 L375.25,57.54 L375.25,54.27 L375.50,54.27 L375.50,59.65 L375.75,59.65 L375.75,58.76 L376.00,58.76 L376.00,58.81 L376.25,58.81 L376.25,57.58 L376.50,57.58 L376.50,59.58 L376.75,59.58 L376.75,58.96 L377.00,58.96 L377.00,59.37 L377.25,59.37 L377.25,57.53 L377.50,57.53 L377.50,59.65 L377.75,59.65 L377.75,56.10 L378.00,56.10 L378.00,59.71 L378.25,59.71 L378.25,59.89 L378.50,59.89 L378.50,58.60 L378.75,58.60 L378.75,59.37 L379.00,59.37 L379.00,60.23 L379.25,60.23 L379.25,59.03 L379.50,59.03 L379.50,60.38 L379.75,60.38 L379.75,58.38 L380.00,58.38 L380.00,58.93 L380.25,58.93 L380.25,58.48 L380.50,58.48 L380.50,59.31 L380.75,59.31 L380.75,60.12 L381.00,60.12 L381.00,60.06 L381.25,60.06 L381.25,60.12 L381.50,60.12 L381.50,57.77 L381.75,57.77 L381.75,60.79 L382.00,60.79 L382.00,57.89 L382.25,57.89 L382.25,60.97 L382.50,60.97 L382.50,60.73 L382.75,60.73 L382.75,60.67 L383.00,60.67 L383.00,57.90 L383.25,57.90 L383.25,60.21 L383.50,60.21 L383.50,60.56 L383.75,60.56 L383.75,58.26 L384.00,58.26 L384.00,60.95 L384.25,60.95 L384.25,60.50 L384.50,60.50 L384.50,60.35 L384.75,60.35 L384.75,59.49 L385.00,59.49 L385.00,59.54 L385.25,59.54 L385.25,60.20 L385.50,60.20 L385.50,61.21 L385.75,61.21 L385.75,61.41 L386.00,61.41 L386.00,61.88 L386.25,61.88 L386.25,59.68 L386.50,59.68 L386.50,60.91 L386.75,60.91 L386.75,60.69 L387.00,60.69 L387.00,62.48 L387.25,62.48 L387.25,62.09 L387.50,62.09 L387.50,60.97 L387.75,60.97 L387.75,61.99 L388.00,61.99 L388.00,63.17 L388.25,63.17 L388.25,62.65 L388.50,62.65 L388.50,60.64 L388.75,60.64 L388.75,63.44 L389.00,63.44 L389.00,63.68 L389.25,63.68 L389.25,63.63 L389.50,63.63 L389.50,62.59 L389.75,62.59 L389.75,61.85 L390.00,61.85 L390.00,64.36 L390.25,64.36 L390.25,65.11 L390.50,65.11 L390.50,65.70 L390.75,65.70 L390.75,66.30 L391.00,66.30 L391.00,66.57 L391.25,66.57 L391.25,68.10 L391.50,68.10 L391.50,68.54 L391.75,68.54 L391.75,69.56 L392.00,69.56 L392.00,65.43 L392.25,65.43 L392.25,71.27 L392.50,71.27 L392.50,75.45 L392.75,75.45 L392.75,73.51 L393.00,73.51 L393.00,80.45 L393.25,80.45 L393.25,86.17 L393.40,86.17 L393.40,105 Z"/><rect x="66.00" y="14.03" width="2.00" height="90.97" fill="#303030"/><rect x="68.00" y="15.32" width="0.80" height="89.68" fill="#5a5a5a"/><rect x="69.00" y="16.43" width="1.20" height="88.57" fill="#303030"/><rect x="73.00" y="18.84" width="0.80" height="86.16" fill="#303030"/><rect x="77.00" y="21.30" width="1.40" height="83.70" fill="#5a5a5a"/><rect x="80.50" y="22.50" width="1.00" height="82.50" fill="#303030"/><rect x="82.00" y="23.02" width="3.20" height="81.98" fill="#151515"/><rect x="85.60" y="23.83" width="1.20" height="81.17" fill="#5a5a5a"/><rect x="93.80" y="25.80" width="1.60" height="79.20" fill="#303030"/><rect x="102.00" y="27.40" width="1.00" height="77.60" fill="#5a5a5a"/><rect x="114.00" y="28.96" width="1.30" height="76.04" fill="#5a5a5a"/><rect x="116.20" y="29.19" width="0.80" height="75.81" fill="#5a5a5a"/><rect x="118.00" y="29.42" width="1.00" height="75.58" fill="#5a5a5a"/><rect x="121.20" y="30.03" width="1.50" height="74.97" fill="#5a5a5a"/><rect x="124.30" y="30.67" width="1.10" height="74.33" fill="#5a5a5a"/><rect x="126.40" y="30.99" width="1.40" height="74.01" fill="#5a5a5a"/><rect x="141.10" y="32.77" width="1.00" height="72.23" fill="#303030"/><rect x="143.10" y="33.15" width="1.50" height="71.85" fill="#5a5a5a"/><rect x="151.40" y="34.32" width="1.30" height="70.68" fill="#5a5a5a"/><rect x="168.80" y="35.93" width="1.20" height="69.07" fill="#303030"/><rect x="175.60" y="36.55" width="1.00" height="68.45" fill="#303030"/><rect x="182.80" y="37.30" width="1.00" height="67.70" fill="#303030"/><rect x="188.00" y="37.93" width="1.20" height="67.07" fill="#303030"/><rect x="192.00" y="38.35" width="1.00" height="66.65" fill="#303030"/><rect x="199.40" y="39.09" width="1.00" height="65.91" fill="#5a5a5a"/><rect x="206.40" y="39.58" width="1.00" height="65.42" fill="#303030"/><rect x="207.60" y="39.67" width="1.00" height="65.33" fill="#5a5a5a"/><rect x="209.80" y="39.83" width="1.00" height="65.17" fill="#303030"/><rect x="240.40" y="43.08" width="2.00" height="61.92" fill="#5a5a5a"/><rect x="246.80" y="43.44" width="1.00" height="61.56" fill="#303030"/><rect x="269.60" y="45.41" width="1.00" height="59.59" fill="#303030"/><rect x="284.20" y="46.85" width="1.60" height="58.15" fill="#303030"/><rect x="288.40" y="47.21" width="1.20" height="57.79" fill="#303030"/><rect x="295.50" y="47.84" width="1.00" height="57.16" fill="#5a5a5a"/><rect x="310.80" y="49.39" width="3.80" height="55.61" fill="#8c8c8c"/><rect x="310.80" y="49.29" width="1.00" height="55.71" fill="#666"/><rect x="337.00" y="52.33" width="1.00" height="52.67" fill="#5a5a5a"/><rect x="341.00" y="52.97" width="1.00" height="52.03" fill="#303030"/><rect x="347.00" y="54.05" width="1.00" height="50.95" fill="#303030"/><rect x="373.00" y="58.34" width="1.00" height="46.66" fill="#303030"/><rect x="375.00" y="58.76" width="1.00" height="46.24" fill="#303030"/><path fill="#c2c2c2" d="M64.00,295.6 L64.00,200.83 L64.25,200.83 L64.25,204.76 L64.50,204.76 L64.50,205.50 L64.75,205.50 L64.75,206.93 L65.00,206.93 L65.00,207.79 L65.25,207.79 L65.25,207.10 L65.50,207.10 L65.50,208.79 L65.75,208.79 L65.75,209.05 L66.00,209.05 L66.00,209.11 L66.25,209.11 L66.25,210.18 L66.50,210.18 L66.50,209.94 L66.75,209.94 L66.75,208.88 L67.00,208.88 L67.00,209.84 L67.25,209.84 L67.25,210.73 L67.50,210.73 L67.50,210.50 L67.75,210.50 L67.75,211.23 L68.00,211.23 L68.00,212.09 L68.25,212.09 L68.25,211.20 L68.50,211.20 L68.50,211.97 L68.75,211.97 L68.75,211.01 L69.00,211.01 L69.00,209.76 L69.25,209.76 L69.25,212.51 L69.50,212.51 L69.50,212.31 L69.75,212.31 L69.75,211.76 L70.00,211.76 L70.00,213.13 L70.25,213.13 L70.25,213.69 L70.50,213.69 L70.50,212.41 L70.75,212.41 L70.75,211.38 L71.00,211.38 L71.00,212.42 L71.25,212.42 L71.25,212.96 L71.50,212.96 L71.50,212.12 L71.75,212.12 L71.75,213.36 L72.00,213.36 L72.00,213.66 L72.25,213.66 L72.25,214.40 L72.50,214.40 L72.50,214.87 L72.75,214.87 L72.75,214.16 L73.00,214.16 L73.00,215.56 L73.25,215.56 L73.25,215.09 L73.50,215.09 L73.50,213.88 L73.75,213.88 L73.75,214.42 L74.00,214.42 L74.00,214.93 L74.25,214.93 L74.25,216.08 L74.50,216.08 L74.50,215.87 L74.75,215.87 L74.75,215.94 L75.00,215.94 L75.00,215.59 L75.25,215.59 L75.25,216.37 L75.50,216.37 L75.50,215.69 L75.75,215.69 L75.75,213.69 L76.00,213.69 L76.00,217.29 L76.25,217.29 L76.25,216.24 L76.50,216.24 L76.50,215.78 L76.75,215.78 L76.75,217.35 L77.00,217.35 L77.00,217.26 L77.25,217.26 L77.25,213.16 L77.50,213.16 L77.50,218.35 L77.75,218.35 L77.75,217.40 L78.00,217.40 L78.00,218.35 L78.25,218.35 L78.25,216.57 L78.50,216.57 L78.50,214.85 L78.75,214.85 L78.75,217.87 L79.00,217.87 L79.00,218.85 L79.25,218.85 L79.25,217.90 L79.50,217.90 L79.50,218.11 L79.75,218.11 L79.75,217.53 L80.00,217.53 L80.00,218.40 L80.25,218.40 L80.25,218.06 L80.50,218.06 L80.50,217.11 L80.75,217.11 L80.75,218.64 L81.00,218.64 L81.00,219.02 L81.25,219.02 L81.25,215.71 L81.50,215.71 L81.50,219.61 L81.75,219.61 L81.75,218.42 L82.00,218.42 L82.00,219.42 L82.25,219.42 L82.25,218.20 L82.50,218.20 L82.50,220.12 L82.75,220.12 L82.75,214.56 L83.00,214.56 L83.00,219.87 L83.25,219.87 L83.25,220.49 L83.50,220.49 L83.50,220.21 L83.75,220.21 L83.75,220.04 L84.00,220.04 L84.00,220.82 L84.25,220.82 L84.25,220.17 L84.50,220.17 L84.50,220.26 L84.75,220.26 L84.75,219.43 L85.00,219.43 L85.00,220.59 L85.25,220.59 L85.25,220.86 L85.50,220.86 L85.50,221.02 L85.75,221.02 L85.75,219.58 L86.00,219.58 L86.00,217.62 L86.25,217.62 L86.25,220.60 L86.50,220.60 L86.50,221.39 L86.75,221.39 L86.75,219.57 L87.00,219.57 L87.00,221.22 L87.25,221.22 L87.25,221.68 L87.50,221.68 L87.50,221.91 L87.75,221.91 L87.75,220.09 L88.00,220.09 L88.00,219.96 L88.25,219.96 L88.25,220.96 L88.50,220.96 L88.50,221.57 L88.75,221.57 L88.75,221.39 L89.00,221.39 L89.00,222.28 L89.25,222.28 L89.25,218.08 L89.50,218.08 L89.50,222.21 L89.75,222.21 L89.75,221.48 L90.00,221.48 L90.00,220.61 L90.25,220.61 L90.25,220.69 L90.50,220.69 L90.50,222.25 L90.75,222.25 L90.75,222.71 L91.00,222.71 L91.00,222.15 L91.25,222.15 L91.25,223.14 L91.50,223.14 L91.50,220.88 L91.75,220.88 L91.75,222.84 L92.00,222.84 L92.00,220.86 L92.25,220.86 L92.25,223.15 L92.50,223.15 L92.50,222.99 L92.75,222.99 L92.75,223.31 L93.00,223.31 L93.00,223.00 L93.25,223.00 L93.25,223.56 L93.50,223.56 L93.50,223.91 L93.75,223.91 L93.75,222.18 L94.00,222.18 L94.00,223.58 L94.25,223.58 L94.25,223.71 L94.50,223.71 L94.50,223.67 L94.75,223.67 L94.75,223.32 L95.00,223.32 L95.00,223.52 L95.25,223.52 L95.25,222.94 L95.50,222.94 L95.50,222.91 L95.75,222.91 L95.75,223.85 L96.00,223.85 L96.00,220.84 L96.25,220.84 L96.25,221.90 L96.50,221.90 L96.50,224.58 L96.75,224.58 L96.75,222.26 L97.00,222.26 L97.00,221.47 L97.25,221.47 L97.25,222.69 L97.50,222.69 L97.50,224.69 L97.75,224.69 L97.75,222.47 L98.00,222.47 L98.00,223.62 L98.25,223.62 L98.25,225.06 L98.50,225.06 L98.50,225.12 L98.75,225.12 L98.75,220.96 L99.00,220.96 L99.00,223.77 L99.25,223.77 L99.25,224.92 L99.50,224.92 L99.50,225.23 L99.75,225.23 L99.75,225.22 L100.00,225.22 L100.00,225.13 L100.25,225.13 L100.25,223.46 L100.50,223.46 L100.50,225.02 L100.75,225.02 L100.75,225.45 L101.00,225.45 L101.00,222.46 L101.25,222.46 L101.25,223.60 L101.50,223.60 L101.50,225.60 L101.75,225.60 L101.75,222.82 L102.00,222.82 L102.00,224.67 L102.25,224.67 L102.25,223.91 L102.50,223.91 L102.50,224.55 L102.75,224.55 L102.75,223.02 L103.00,223.02 L103.00,224.05 L103.25,224.05 L103.25,223.72 L103.50,223.72 L103.50,226.03 L103.75,226.03 L103.75,224.75 L104.00,224.75 L104.00,225.40 L104.25,225.40 L104.25,224.62 L104.50,224.62 L104.50,225.77 L104.75,225.77 L104.75,223.64 L105.00,223.64 L105.00,225.57 L105.25,225.57 L105.25,226.31 L105.50,226.31 L105.50,226.42 L105.75,226.42 L105.75,226.62 L106.00,226.62 L106.00,225.93 L106.25,225.93 L106.25,226.84 L106.50,226.84 L106.50,226.09 L106.75,226.09 L106.75,226.80 L107.00,226.80 L107.00,226.11 L107.25,226.11 L107.25,226.14 L107.50,226.14 L107.50,226.06 L107.75,226.06 L107.75,224.41 L108.00,224.41 L108.00,227.23 L108.25,227.23 L108.25,224.71 L108.50,224.71 L108.50,226.45 L108.75,226.45 L108.75,226.22 L109.00,226.22 L109.00,225.89 L109.25,225.89 L109.25,224.89 L109.50,224.89 L109.50,226.85 L109.75,226.85 L109.75,226.80 L110.00,226.80 L110.00,223.07 L110.25,223.07 L110.25,227.54 L110.50,227.54 L110.50,226.27 L110.75,226.27 L110.75,226.32 L111.00,226.32 L111.00,227.74 L111.25,227.74 L111.25,226.51 L111.50,226.51 L111.50,226.26 L111.75,226.26 L111.75,224.16 L112.00,224.16 L112.00,227.40 L112.25,227.40 L112.25,222.40 L112.50,222.40 L112.50,227.05 L112.75,227.05 L112.75,227.17 L113.00,227.17 L113.00,224.95 L113.25,224.95 L113.25,228.14 L113.50,228.14 L113.50,226.46 L113.75,226.46 L113.75,226.90 L114.00,226.90 L114.00,227.74 L114.25,227.74 L114.25,225.60 L114.50,225.60 L114.50,227.77 L114.75,227.77 L114.75,227.55 L115.00,227.55 L115.00,227.46 L115.25,227.46 L115.25,226.50 L115.50,226.50 L115.50,228.29 L115.75,228.29 L115.75,227.88 L116.00,227.88 L116.00,227.97 L116.25,227.97 L116.25,227.67 L116.50,227.67 L116.50,226.41 L116.75,226.41 L116.75,228.43 L117.00,228.43 L117.00,226.52 L117.25,226.52 L117.25,228.32 L117.50,228.32 L117.50,228.12 L117.75,228.12 L117.75,228.72 L118.00,228.72 L118.00,228.23 L118.25,228.23 L118.25,224.12 L118.50,224.12 L118.50,227.85 L118.75,227.85 L118.75,227.20 L119.00,227.20 L119.00,228.90 L119.25,228.90 L119.25,228.99 L119.50,228.99 L119.50,229.08 L119.75,229.08 L119.75,228.40 L120.00,228.40 L120.00,228.29 L120.25,228.29 L120.25,227.59 L120.50,227.59 L120.50,229.72 L120.75,229.72 L120.75,228.02 L121.00,228.02 L121.00,226.81 L121.25,226.81 L121.25,228.78 L121.50,228.78 L121.50,229.85 L121.75,229.85 L121.75,229.46 L122.00,229.46 L122.00,229.99 L122.25,229.99 L122.25,229.74 L122.50,229.74 L122.50,226.51 L122.75,226.51 L122.75,228.80 L123.00,228.80 L123.00,228.65 L123.25,228.65 L123.25,228.01 L123.50,228.01 L123.50,226.86 L123.75,226.86 L123.75,228.94 L124.00,228.94 L124.00,228.96 L124.25,228.96 L124.25,228.96 L124.50,228.96 L124.50,228.71 L124.75,228.71 L124.75,229.14 L125.00,229.14 L125.00,228.85 L125.25,228.85 L125.25,230.15 L125.50,230.15 L125.50,228.99 L125.75,228.99 L125.75,229.71 L126.00,229.71 L126.00,228.59 L126.25,228.59 L126.25,230.49 L126.50,230.49 L126.50,230.39 L126.75,230.39 L126.75,230.66 L127.00,230.66 L127.00,228.66 L127.25,228.66 L127.25,227.35 L127.50,227.35 L127.50,229.33 L127.75,229.33 L127.75,230.22 L128.00,230.22 L128.00,228.48 L128.25,228.48 L128.25,228.78 L128.50,228.78 L128.50,229.82 L128.75,229.82 L128.75,230.59 L129.00,230.59 L129.00,230.55 L129.25,230.55 L129.25,230.32 L129.50,230.32 L129.50,230.59 L129.75,230.59 L129.75,230.37 L130.00,230.37 L130.00,229.76 L130.25,229.76 L130.25,227.45 L130.50,227.45 L130.50,231.22 L130.75,231.22 L130.75,230.17 L131.00,230.17 L131.00,231.33 L131.25,231.33 L131.25,231.26 L131.50,231.26 L131.50,229.16 L131.75,229.16 L131.75,230.33 L132.00,230.33 L132.00,228.07 L132.25,228.07 L132.25,230.80 L132.50,230.80 L132.50,231.66 L132.75,231.66 L132.75,231.04 L133.00,231.04 L133.00,230.52 L133.25,230.52 L133.25,227.93 L133.50,227.93 L133.50,226.33 L133.75,226.33 L133.75,231.01 L134.00,231.01 L134.00,231.22 L134.25,231.22 L134.25,231.86 L134.50,231.86 L134.50,230.61 L134.75,230.61 L134.75,231.77 L135.00,231.77 L135.00,231.92 L135.25,231.92 L135.25,232.18 L135.50,232.18 L135.50,232.24 L135.75,232.24 L135.75,230.68 L136.00,230.68 L136.00,232.16 L136.25,232.16 L136.25,227.64 L136.50,227.64 L136.50,232.31 L136.75,232.31 L136.75,229.63 L137.00,229.63 L137.00,232.34 L137.25,232.34 L137.25,232.55 L137.50,232.55 L137.50,230.85 L137.75,230.85 L137.75,232.28 L138.00,232.28 L138.00,230.87 L138.25,230.87 L138.25,232.48 L138.50,232.48 L138.50,232.74 L138.75,232.74 L138.75,230.78 L139.00,230.78 L139.00,231.16 L139.25,231.16 L139.25,230.25 L139.50,230.25 L139.50,231.17 L139.75,231.17 L139.75,232.93 L140.00,232.93 L140.00,231.71 L140.25,231.71 L140.25,231.42 L140.50,231.42 L140.50,232.34 L140.75,232.34 L140.75,229.49 L141.00,229.49 L141.00,232.90 L141.25,232.90 L141.25,228.70 L141.50,228.70 L141.50,231.65 L141.75,231.65 L141.75,233.45 L142.00,233.45 L142.00,233.50 L142.25,233.50 L142.25,232.10 L142.50,232.10 L142.50,231.24 L142.75,231.24 L142.75,233.56 L143.00,233.56 L143.00,233.21 L143.25,233.21 L143.25,231.95 L143.50,231.95 L143.50,233.58 L143.75,233.58 L143.75,231.13 L144.00,231.13 L144.00,233.01 L144.25,233.01 L144.25,233.91 L144.50,233.91 L144.50,233.40 L144.75,233.40 L144.75,232.90 L145.00,232.90 L145.00,233.34 L145.25,233.34 L145.25,232.62 L145.50,232.62 L145.50,234.04 L145.75,234.04 L145.75,232.07 L146.00,232.07 L146.00,233.73 L146.25,233.73 L146.25,232.96 L146.50,232.96 L146.50,233.07 L146.75,233.07 L146.75,233.76 L147.00,233.76 L147.00,233.89 L147.25,233.89 L147.25,232.46 L147.50,232.46 L147.50,230.62 L147.75,230.62 L147.75,232.58 L148.00,232.58 L148.00,233.61 L148.25,233.61 L148.25,234.35 L148.50,234.35 L148.50,234.80 L148.75,234.80 L148.75,229.83 L149.00,229.83 L149.00,233.29 L149.25,233.29 L149.25,232.58 L149.50,232.58 L149.50,234.53 L149.75,234.53 L149.75,233.84 L150.00,233.84 L150.00,229.89 L150.25,229.89 L150.25,232.74 L150.50,232.74 L150.50,233.97 L150.75,233.97 L150.75,234.77 L151.00,234.77 L151.00,234.53 L151.25,234.53 L151.25,232.27 L151.50,232.27 L151.50,234.70 L151.75,234.70 L151.75,233.78 L152.00,233.78 L152.00,234.13 L152.25,234.13 L152.25,232.28 L152.50,232.28 L152.50,233.17 L152.75,233.17 L152.75,235.04 L153.00,235.04 L153.00,235.53 L153.25,235.53 L153.25,235.13 L153.50,235.13 L153.50,234.82 L153.75,234.82 L153.75,234.38 L154.00,234.38 L154.00,233.27 L154.25,233.27 L154.25,232.61 L154.50,232.61 L154.50,235.63 L154.75,235.63 L154.75,233.21 L155.00,233.21 L155.00,233.41 L155.25,233.41 L155.25,232.95 L155.50,232.95 L155.50,234.62 L155.75,234.62 L155.75,235.38 L156.00,235.38 L156.00,233.19 L156.25,233.19 L156.25,233.58 L156.50,233.58 L156.50,234.30 L156.75,234.30 L156.75,232.51 L157.00,232.51 L157.00,235.37 L157.25,235.37 L157.25,235.87 L157.50,235.87 L157.50,234.90 L157.75,234.90 L157.75,233.82 L158.00,233.82 L158.00,235.77 L158.25,235.77 L158.25,234.17 L158.50,234.17 L158.50,232.38 L158.75,232.38 L158.75,235.79 L159.00,235.79 L159.00,234.88 L159.25,234.88 L159.25,234.63 L159.50,234.63 L159.50,235.37 L159.75,235.37 L159.75,235.95 L160.00,235.95 L160.00,235.89 L160.25,235.89 L160.25,234.39 L160.50,234.39 L160.50,234.17 L160.75,234.17 L160.75,235.54 L161.00,235.54 L161.00,236.30 L161.25,236.30 L161.25,234.16 L161.50,234.16 L161.50,234.42 L161.75,234.42 L161.75,236.16 L162.00,236.16 L162.00,235.35 L162.25,235.35 L162.25,233.41 L162.50,233.41 L162.50,233.60 L162.75,233.60 L162.75,235.62 L163.00,235.62 L163.00,235.78 L163.25,235.78 L163.25,235.48 L163.50,235.48 L163.50,236.46 L163.75,236.46 L163.75,236.49 L164.00,236.49 L164.00,236.54 L164.25,236.54 L164.25,235.16 L164.50,235.16 L164.50,236.25 L164.75,236.25 L164.75,235.75 L165.00,235.75 L165.00,236.23 L165.25,236.23 L165.25,235.96 L165.50,235.96 L165.50,236.79 L165.75,236.79 L165.75,236.98 L166.00,236.98 L166.00,231.08 L166.25,231.08 L166.25,236.46 L166.50,236.46 L166.50,236.99 L166.75,236.99 L166.75,235.78 L167.00,235.78 L167.00,235.04 L167.25,235.04 L167.25,237.00 L167.50,237.00 L167.50,236.00 L167.75,236.00 L167.75,236.72 L168.00,236.72 L168.00,236.31 L168.25,236.31 L168.25,237.34 L168.50,237.34 L168.50,237.36 L168.75,237.36 L168.75,231.44 L169.00,231.44 L169.00,234.66 L169.25,234.66 L169.25,236.57 L169.50,236.57 L169.50,236.36 L169.75,236.36 L169.75,237.14 L170.00,237.14 L170.00,235.49 L170.25,235.49 L170.25,236.85 L170.50,236.85 L170.50,233.56 L170.75,233.56 L170.75,235.65 L171.00,235.65 L171.00,235.33 L171.25,235.33 L171.25,233.12 L171.50,233.12 L171.50,237.37 L171.75,237.37 L171.75,237.76 L172.00,237.76 L172.00,237.53 L172.25,237.53 L172.25,237.59 L172.50,237.59 L172.50,237.78 L172.75,237.78 L172.75,237.86 L173.00,237.86 L173.00,236.82 L173.25,236.82 L173.25,235.13 L173.50,235.13 L173.50,237.16 L173.75,237.16 L173.75,233.93 L174.00,233.93 L174.00,234.71 L174.25,234.71 L174.25,238.02 L174.50,238.02 L174.50,236.86 L174.75,236.86 L174.75,237.46 L175.00,237.46 L175.00,238.02 L175.25,238.02 L175.25,233.75 L175.50,233.75 L175.50,237.84 L175.75,237.84 L175.75,237.13 L176.00,237.13 L176.00,236.89 L176.25,236.89 L176.25,233.96 L176.50,233.96 L176.50,236.83 L176.75,236.83 L176.75,237.71 L177.00,237.71 L177.00,237.61 L177.25,237.61 L177.25,238.23 L177.50,238.23 L177.50,233.78 L177.75,233.78 L177.75,232.53 L178.00,232.53 L178.00,238.21 L178.25,238.21 L178.25,238.53 L178.50,238.53 L178.50,238.21 L178.75,238.21 L178.75,238.04 L179.00,238.04 L179.00,235.42 L179.25,235.42 L179.25,235.42 L179.50,235.42 L179.50,236.20 L179.75,236.20 L179.75,238.70 L180.00,238.70 L180.00,236.64 L180.25,236.64 L180.25,237.10 L180.50,237.10 L180.50,237.40 L180.75,237.40 L180.75,232.97 L181.00,232.97 L181.00,238.84 L181.25,238.84 L181.25,238.73 L181.50,238.73 L181.50,237.01 L181.75,237.01 L181.75,235.09 L182.00,235.09 L182.00,237.46 L182.25,237.46 L182.25,238.57 L182.50,238.57 L182.50,237.85 L182.75,237.85 L182.75,237.14 L183.00,237.14 L183.00,239.00 L183.25,239.00 L183.25,238.64 L183.50,238.64 L183.50,238.80 L183.75,238.80 L183.75,239.06 L184.00,239.06 L184.00,238.36 L184.25,238.36 L184.25,239.05 L184.50,239.05 L184.50,238.96 L184.75,238.96 L184.75,239.15 L185.00,239.15 L185.00,237.82 L185.25,237.82 L185.25,239.41 L185.50,239.41 L185.50,237.69 L185.75,237.69 L185.75,239.19 L186.00,239.19 L186.00,239.47 L186.25,239.47 L186.25,235.87 L186.50,235.87 L186.50,239.23 L186.75,239.23 L186.75,235.81 L187.00,235.81 L187.00,236.82 L187.25,236.82 L187.25,236.60 L187.50,236.60 L187.50,239.49 L187.75,239.49 L187.75,238.90 L188.00,238.90 L188.00,239.62 L188.25,239.62 L188.25,236.09 L188.50,236.09 L188.50,237.23 L188.75,237.23 L188.75,238.46 L189.00,238.46 L189.00,239.04 L189.25,239.04 L189.25,239.33 L189.50,239.33 L189.50,237.52 L189.75,237.52 L189.75,239.06 L190.00,239.06 L190.00,238.61 L190.25,238.61 L190.25,239.81 L190.50,239.81 L190.50,239.71 L190.75,239.71 L190.75,240.01 L191.00,240.01 L191.00,238.37 L191.25,238.37 L191.25,239.02 L191.50,239.02 L191.50,239.96 L191.75,239.96 L191.75,237.35 L192.00,237.35 L192.00,239.81 L192.25,239.81 L192.25,239.53 L192.50,239.53 L192.50,240.06 L192.75,240.06 L192.75,239.89 L193.00,239.89 L193.00,237.80 L193.25,237.80 L193.25,239.82 L193.50,239.82 L193.50,240.16 L193.75,240.16 L193.75,239.50 L194.00,239.50 L194.00,239.94 L194.25,239.94 L194.25,237.24 L194.50,237.24 L194.50,240.37 L194.75,240.37 L194.75,235.19 L195.00,235.19 L195.00,240.52 L195.25,240.52 L195.25,237.47 L195.50,237.47 L195.50,239.12 L195.75,239.12 L195.75,240.36 L196.00,240.36 L196.00,239.81 L196.25,239.81 L196.25,240.28 L196.50,240.28 L196.50,240.36 L196.75,240.36 L196.75,240.49 L197.00,240.49 L197.00,240.21 L197.25,240.21 L197.25,234.87 L197.50,234.87 L197.50,234.90 L197.75,234.90 L197.75,237.30 L198.00,237.30 L198.00,240.82 L198.25,240.82 L198.25,240.51 L198.50,240.51 L198.50,237.85 L198.75,237.85 L198.75,240.97 L199.00,240.97 L199.00,239.27 L199.25,239.27 L199.25,240.62 L199.50,240.62 L199.50,235.76 L199.75,235.76 L199.75,241.15 L200.00,241.15 L200.00,238.90 L200.25,238.90 L200.25,240.63 L200.50,240.63 L200.50,241.02 L200.75,241.02 L200.75,241.24 L201.00,241.24 L201.00,238.76 L201.25,238.76 L201.25,240.23 L201.50,240.23 L201.50,241.00 L201.75,241.00 L201.75,240.51 L202.00,240.51 L202.00,237.92 L202.25,237.92 L202.25,240.99 L202.50,240.99 L202.50,240.16 L202.75,240.16 L202.75,241.16 L203.00,241.16 L203.00,241.10 L203.25,241.10 L203.25,239.33 L203.50,239.33 L203.50,239.67 L203.75,239.67 L203.75,241.12 L204.00,241.12 L204.00,241.32 L204.25,241.32 L204.25,241.33 L204.50,241.33 L204.50,240.16 L204.75,240.16 L204.75,240.53 L205.00,240.53 L205.00,241.05 L205.25,241.05 L205.25,241.19 L205.50,241.19 L205.50,240.20 L205.75,240.20 L205.75,239.82 L206.00,239.82 L206.00,239.22 L206.25,239.22 L206.25,240.35 L206.50,240.35 L206.50,241.27 L206.75,241.27 L206.75,241.51 L207.00,241.51 L207.00,239.77 L207.25,239.77 L207.25,240.90 L207.50,240.90 L207.50,239.86 L207.75,239.86 L207.75,241.59 L208.00,241.59 L208.00,239.35 L208.25,239.35 L208.25,241.12 L208.50,241.12 L208.50,239.13 L208.75,239.13 L208.75,238.93 L209.00,238.93 L209.00,240.79 L209.25,240.79 L209.25,241.73 L209.50,241.73 L209.50,238.40 L209.75,238.40 L209.75,240.88 L210.00,240.88 L210.00,238.92 L210.25,238.92 L210.25,241.39 L210.50,241.39 L210.50,241.55 L210.75,241.55 L210.75,239.37 L211.00,239.37 L211.00,241.24 L211.25,241.24 L211.25,241.65 L211.50,241.65 L211.50,241.27 L211.75,241.27 L211.75,240.67 L212.00,240.67 L212.00,241.95 L212.25,241.95 L212.25,240.95 L212.50,240.95 L212.50,241.17 L212.75,241.17 L212.75,241.01 L213.00,241.01 L213.00,241.86 L213.25,241.86 L213.25,240.30 L213.50,240.30 L213.50,239.71 L213.75,239.71 L213.75,239.29 L214.00,239.29 L214.00,241.58 L214.25,241.58 L214.25,240.40 L214.50,240.40 L214.50,241.49 L214.75,241.49 L214.75,240.23 L215.00,240.23 L215.00,242.11 L215.25,242.11 L215.25,239.33 L215.50,239.33 L215.50,237.93 L215.75,237.93 L215.75,241.30 L216.00,241.30 L216.00,241.27 L216.25,241.27 L216.25,241.24 L216.50,241.24 L216.50,241.24 L216.75,241.24 L216.75,242.31 L217.00,242.31 L217.00,237.57 L217.25,237.57 L217.25,242.03 L217.50,242.03 L217.50,242.12 L217.75,242.12 L217.75,242.27 L218.00,242.27 L218.00,242.04 L218.25,242.04 L218.25,240.08 L218.50,240.08 L218.50,242.44 L218.75,242.44 L218.75,242.36 L219.00,242.36 L219.00,240.84 L219.25,240.84 L219.25,242.24 L219.50,242.24 L219.50,242.54 L219.75,242.54 L219.75,241.30 L220.00,241.30 L220.00,241.40 L220.25,241.40 L220.25,241.58 L220.50,241.58 L220.50,240.94 L220.75,240.94 L220.75,242.50 L221.00,242.50 L221.00,239.82 L221.25,239.82 L221.25,240.92 L221.50,240.92 L221.50,242.64 L221.75,242.64 L221.75,242.54 L222.00,242.54 L222.00,241.79 L222.25,241.79 L222.25,241.78 L222.50,241.78 L222.50,242.32 L222.75,242.32 L222.75,242.61 L223.00,242.61 L223.00,242.08 L223.25,242.08 L223.25,242.62 L223.50,242.62 L223.50,241.59 L223.75,241.59 L223.75,240.10 L224.00,240.10 L224.00,242.66 L224.25,242.66 L224.25,241.71 L224.50,241.71 L224.50,240.99 L224.75,240.99 L224.75,242.68 L225.00,242.68 L225.00,240.50 L225.25,240.50 L225.25,239.08 L225.50,239.08 L225.50,242.30 L225.75,242.30 L225.75,242.24 L226.00,242.24 L226.00,240.46 L226.25,240.46 L226.25,241.99 L226.50,241.99 L226.50,242.35 L226.75,242.35 L226.75,239.10 L227.00,239.10 L227.00,240.99 L227.25,240.99 L227.25,242.53 L227.50,242.53 L227.50,242.74 L227.75,242.74 L227.75,242.57 L228.00,242.57 L228.00,242.36 L228.25,242.36 L228.25,237.61 L228.50,237.61 L228.50,240.91 L228.75,240.91 L228.75,239.80 L229.00,239.80 L229.00,240.87 L229.25,240.87 L229.25,240.61 L229.50,240.61 L229.50,243.19 L229.75,243.19 L229.75,242.26 L230.00,242.26 L230.00,238.87 L230.25,238.87 L230.25,239.52 L230.50,239.52 L230.50,242.96 L230.75,242.96 L230.75,242.62 L231.00,242.62 L231.00,242.02 L231.25,242.02 L231.25,242.82 L231.50,242.82 L231.50,242.42 L231.75,242.42 L231.75,243.41 L232.00,243.41 L232.00,242.75 L232.25,242.75 L232.25,242.59 L232.50,242.59 L232.50,243.57 L232.75,243.57 L232.75,243.42 L233.00,243.42 L233.00,238.76 L233.25,238.76 L233.25,241.59 L233.50,241.59 L233.50,239.85 L233.75,239.85 L233.75,242.35 L234.00,242.35 L234.00,241.46 L234.25,241.46 L234.25,240.79 L234.50,240.79 L234.50,240.82 L234.75,240.82 L234.75,243.82 L235.00,243.82 L235.00,242.46 L235.25,242.46 L235.25,243.50 L235.50,243.50 L235.50,242.37 L235.75,242.37 L235.75,243.54 L236.00,243.54 L236.00,242.93 L236.25,242.93 L236.25,240.44 L236.50,240.44 L236.50,242.72 L236.75,242.72 L236.75,243.71 L237.00,243.71 L237.00,243.11 L237.25,243.11 L237.25,243.37 L237.50,243.37 L237.50,239.98 L237.75,239.98 L237.75,243.76 L238.00,243.76 L238.00,243.75 L238.25,243.75 L238.25,242.83 L238.50,242.83 L238.50,244.14 L238.75,244.14 L238.75,243.09 L239.00,243.09 L239.00,240.00 L239.25,240.00 L239.25,243.40 L239.50,243.40 L239.50,244.00 L239.75,244.00 L239.75,243.59 L240.00,243.59 L240.00,243.43 L240.25,243.43 L240.25,244.31 L240.50,244.31 L240.50,244.37 L240.75,244.37 L240.75,244.39 L241.00,244.39 L241.00,244.13 L241.25,244.13 L241.25,243.92 L241.50,243.92 L241.50,244.20 L241.75,244.20 L241.75,244.32 L242.00,244.32 L242.00,244.61 L242.25,244.61 L242.25,243.66 L242.50,243.66 L242.50,242.24 L242.75,242.24 L242.75,243.51 L243.00,243.51 L243.00,243.68 L243.25,243.68 L243.25,243.42 L243.50,243.42 L243.50,244.61 L243.75,244.61 L243.75,243.22 L244.00,243.22 L244.00,244.12 L244.25,244.12 L244.25,243.90 L244.50,243.90 L244.50,243.71 L244.75,243.71 L244.75,244.18 L245.00,244.18 L245.00,244.58 L245.25,244.58 L245.25,244.74 L245.50,244.74 L245.50,244.81 L245.75,244.81 L245.75,244.18 L246.00,244.18 L246.00,244.54 L246.25,244.54 L246.25,244.02 L246.50,244.02 L246.50,245.26 L246.75,245.26 L246.75,244.70 L247.00,244.70 L247.00,242.57 L247.25,242.57 L247.25,244.99 L247.50,244.99 L247.50,244.26 L247.75,244.26 L247.75,244.48 L248.00,244.48 L248.00,244.99 L248.25,244.99 L248.25,239.49 L248.50,239.49 L248.50,245.03 L248.75,245.03 L248.75,243.48 L249.00,243.48 L249.00,245.34 L249.25,245.34 L249.25,245.51 L249.50,245.51 L249.50,242.77 L249.75,242.77 L249.75,244.86 L250.00,244.86 L250.00,245.61 L250.25,245.61 L250.25,245.03 L250.50,245.03 L250.50,244.92 L250.75,244.92 L250.75,243.88 L251.00,243.88 L251.00,245.60 L251.25,245.60 L251.25,245.42 L251.50,245.42 L251.50,241.31 L251.75,241.31 L251.75,243.93 L252.00,243.93 L252.00,245.59 L252.25,245.59 L252.25,245.26 L252.50,245.26 L252.50,245.24 L252.75,245.24 L252.75,244.29 L253.00,244.29 L253.00,244.54 L253.25,244.54 L253.25,243.24 L253.50,243.24 L253.50,243.50 L253.75,243.50 L253.75,244.90 L254.00,244.90 L254.00,244.06 L254.25,244.06 L254.25,244.05 L254.50,244.05 L254.50,243.97 L254.75,243.97 L254.75,245.08 L255.00,245.08 L255.00,243.85 L255.25,243.85 L255.25,244.29 L255.50,244.29 L255.50,242.58 L255.75,242.58 L255.75,245.85 L256.00,245.85 L256.00,243.19 L256.25,243.19 L256.25,246.07 L256.50,246.07 L256.50,244.06 L256.75,244.06 L256.75,244.87 L257.00,244.87 L257.00,245.16 L257.25,245.16 L257.25,241.53 L257.50,241.53 L257.50,244.96 L257.75,244.96 L257.75,245.41 L258.00,245.41 L258.00,244.04 L258.25,244.04 L258.25,243.31 L258.50,243.31 L258.50,244.90 L258.75,244.90 L258.75,245.56 L259.00,245.56 L259.00,245.40 L259.25,245.40 L259.25,245.40 L259.50,245.40 L259.50,244.47 L259.75,244.47 L259.75,245.80 L260.00,245.80 L260.00,245.61 L260.25,245.61 L260.25,245.20 L260.50,245.20 L260.50,245.69 L260.75,245.69 L260.75,245.85 L261.00,245.85 L261.00,244.26 L261.25,244.26 L261.25,243.81 L261.50,243.81 L261.50,245.53 L261.75,245.53 L261.75,245.71 L262.00,245.71 L262.00,246.27 L262.25,246.27 L262.25,246.09 L262.50,246.09 L262.50,246.41 L262.75,246.41 L262.75,245.46 L263.00,245.46 L263.00,245.47 L263.25,245.47 L263.25,246.59 L263.50,246.59 L263.50,243.22 L263.75,243.22 L263.75,246.24 L264.00,246.24 L264.00,244.22 L264.25,244.22 L264.25,244.30 L264.50,244.30 L264.50,242.42 L264.75,242.42 L264.75,246.60 L265.00,246.60 L265.00,246.17 L265.25,246.17 L265.25,243.60 L265.50,243.60 L265.50,247.00 L265.75,247.00 L265.75,246.98 L266.00,246.98 L266.00,245.91 L266.25,245.91 L266.25,246.15 L266.50,246.15 L266.50,243.60 L266.75,243.60 L266.75,245.10 L267.00,245.10 L267.00,246.13 L267.25,246.13 L267.25,241.24 L267.50,241.24 L267.50,246.25 L267.75,246.25 L267.75,246.29 L268.00,246.29 L268.00,245.72 L268.25,245.72 L268.25,246.68 L268.50,246.68 L268.50,246.79 L268.75,246.79 L268.75,246.17 L269.00,246.17 L269.00,246.86 L269.25,246.86 L269.25,243.37 L269.50,243.37 L269.50,245.96 L269.75,245.96 L269.75,246.52 L270.00,246.52 L270.00,247.45 L270.25,247.45 L270.25,246.96 L270.50,246.96 L270.50,246.91 L270.75,246.91 L270.75,246.49 L271.00,246.49 L271.00,246.47 L271.25,246.47 L271.25,244.71 L271.50,244.71 L271.50,243.02 L271.75,243.02 L271.75,246.77 L272.00,246.77 L272.00,246.91 L272.25,246.91 L272.25,246.36 L272.50,246.36 L272.50,241.75 L272.75,241.75 L272.75,247.18 L273.00,247.18 L273.00,246.72 L273.25,246.72 L273.25,245.43 L273.50,245.43 L273.50,247.55 L273.75,247.55 L273.75,247.29 L274.00,247.29 L274.00,242.47 L274.25,242.47 L274.25,245.41 L274.50,245.41 L274.50,246.86 L274.75,246.86 L274.75,247.72 L275.00,247.72 L275.00,244.75 L275.25,244.75 L275.25,246.28 L275.50,246.28 L275.50,245.52 L275.75,245.52 L275.75,241.94 L276.00,241.94 L276.00,244.89 L276.25,244.89 L276.25,247.21 L276.50,247.21 L276.50,247.75 L276.75,247.75 L276.75,247.53 L277.00,247.53 L277.00,247.02 L277.25,247.02 L277.25,247.05 L277.50,247.05 L277.50,247.76 L277.75,247.76 L277.75,247.78 L278.00,247.78 L278.00,246.69 L278.25,246.69 L278.25,246.80 L278.50,246.80 L278.50,247.50 L278.75,247.50 L278.75,242.12 L279.00,242.12 L279.00,246.72 L279.25,246.72 L279.25,248.09 L279.50,248.09 L279.50,247.43 L279.75,247.43 L279.75,246.02 L280.00,246.02 L280.00,247.69 L280.25,247.69 L280.25,246.58 L280.50,246.58 L280.50,248.23 L280.75,248.23 L280.75,247.75 L281.00,247.75 L281.00,245.70 L281.25,245.70 L281.25,247.06 L281.50,247.06 L281.50,246.78 L281.75,246.78 L281.75,248.03 L282.00,248.03 L282.00,247.40 L282.25,247.40 L282.25,247.25 L282.50,247.25 L282.50,247.97 L282.75,247.97 L282.75,246.96 L283.00,246.96 L283.00,247.38 L283.25,247.38 L283.25,242.46 L283.50,242.46 L283.50,247.28 L283.75,247.28 L283.75,247.76 L284.00,247.76 L284.00,248.34 L284.25,248.34 L284.25,248.30 L284.50,248.30 L284.50,246.56 L284.75,246.56 L284.75,248.42 L285.00,248.42 L285.00,248.45 L285.25,248.45 L285.25,248.36 L285.50,248.36 L285.50,247.61 L285.75,247.61 L285.75,246.23 L286.00,246.23 L286.00,247.35 L286.25,247.35 L286.25,246.40 L286.50,246.40 L286.50,248.63 L286.75,248.63 L286.75,248.72 L287.00,248.72 L287.00,246.70 L287.25,246.70 L287.25,248.23 L287.50,248.23 L287.50,247.04 L287.75,247.04 L287.75,248.21 L288.00,248.21 L288.00,248.58 L288.25,248.58 L288.25,248.43 L288.50,248.43 L288.50,248.73 L288.75,248.73 L288.75,245.62 L289.00,245.62 L289.00,247.70 L289.25,247.70 L289.25,248.34 L289.50,248.34 L289.50,248.12 L289.75,248.12 L289.75,248.30 L290.00,248.30 L290.00,248.92 L290.25,248.92 L290.25,245.94 L290.50,245.94 L290.50,247.85 L290.75,247.85 L290.75,244.61 L291.00,244.61 L291.00,248.33 L291.25,248.33 L291.25,247.82 L291.50,247.82 L291.50,248.81 L291.75,248.81 L291.75,249.18 L292.00,249.18 L292.00,245.54 L292.25,245.54 L292.25,246.61 L292.50,246.61 L292.50,248.82 L292.75,248.82 L292.75,246.18 L293.00,246.18 L293.00,247.05 L293.25,247.05 L293.25,248.95 L293.50,248.95 L293.50,248.20 L293.75,248.20 L293.75,245.02 L294.00,245.02 L294.00,248.60 L294.25,248.60 L294.25,245.41 L294.50,245.41 L294.50,249.24 L294.75,249.24 L294.75,248.97 L295.00,248.97 L295.00,247.93 L295.25,247.93 L295.25,249.38 L295.50,249.38 L295.50,249.25 L295.75,249.25 L295.75,246.89 L296.00,246.89 L296.00,248.91 L296.25,248.91 L296.25,247.67 L296.50,247.67 L296.50,249.52 L296.75,249.52 L296.75,249.68 L297.00,249.68 L297.00,249.36 L297.25,249.36 L297.25,249.73 L297.50,249.73 L297.50,245.07 L297.75,245.07 L297.75,249.60 L298.00,249.60 L298.00,248.97 L298.25,248.97 L298.25,249.98 L298.50,249.98 L298.50,249.12 L298.75,249.12 L298.75,249.54 L299.00,249.54 L299.00,249.54 L299.25,249.54 L299.25,250.20 L299.50,250.20 L299.50,250.15 L299.75,250.15 L299.75,247.92 L300.00,247.92 L300.00,249.79 L300.25,249.79 L300.25,250.05 L300.50,250.05 L300.50,250.19 L300.75,250.19 L300.75,250.06 L301.00,250.06 L301.00,250.19 L301.25,250.19 L301.25,250.56 L301.50,250.56 L301.50,249.13 L301.75,249.13 L301.75,250.11 L302.00,250.11 L302.00,250.50 L302.25,250.50 L302.25,249.07 L302.50,249.07 L302.50,250.69 L302.75,250.69 L302.75,250.43 L303.00,250.43 L303.00,248.39 L303.25,248.39 L303.25,250.76 L303.50,250.76 L303.50,250.17 L303.75,250.17 L303.75,248.50 L304.00,248.50 L304.00,248.79 L304.25,248.79 L304.25,250.88 L304.50,250.88 L304.50,250.56 L304.75,250.56 L304.75,249.41 L305.00,249.41 L305.00,250.59 L305.25,250.59 L305.25,246.84 L305.50,246.84 L305.50,251.01 L305.75,251.01 L305.75,247.16 L306.00,247.16 L306.00,250.44 L306.25,250.44 L306.25,251.10 L306.50,251.10 L306.50,250.66 L306.75,250.66 L306.75,251.35 L307.00,251.35 L307.00,249.87 L307.25,249.87 L307.25,251.21 L307.50,251.21 L307.50,248.46 L307.75,248.46 L307.75,250.48 L308.00,250.48 L308.00,251.12 L308.25,251.12 L308.25,251.41 L308.50,251.41 L308.50,250.53 L308.75,250.53 L308.75,251.55 L309.00,251.55 L309.00,249.05 L309.25,249.05 L309.25,251.79 L309.50,251.79 L309.50,251.01 L309.75,251.01 L309.75,250.96 L310.00,250.96 L310.00,251.66 L310.25,251.66 L310.25,250.06 L310.50,250.06 L310.50,251.47 L310.75,251.47 L310.75,250.67 L311.00,250.67 L311.00,251.03 L311.25,251.03 L311.25,251.70 L311.50,251.70 L311.50,251.56 L311.75,251.56 L311.75,252.15 L312.00,252.15 L312.00,252.03 L312.25,252.03 L312.25,249.66 L312.50,249.66 L312.50,251.81 L312.75,251.81 L312.75,250.85 L313.00,250.85 L313.00,252.24 L313.25,252.24 L313.25,251.27 L313.50,251.27 L313.50,251.82 L313.75,251.82 L313.75,251.50 L314.00,251.50 L314.00,252.01 L314.25,252.01 L314.25,252.43 L314.50,252.43 L314.50,252.03 L314.75,252.03 L314.75,252.22 L315.00,252.22 L315.00,252.41 L315.25,252.41 L315.25,250.86 L315.50,250.86 L315.50,252.19 L315.75,252.19 L315.75,251.95 L316.00,251.95 L316.00,249.35 L316.25,249.35 L316.25,250.64 L316.50,250.64 L316.50,249.75 L316.75,249.75 L316.75,250.01 L317.00,250.01 L317.00,252.60 L317.25,252.60 L317.25,252.37 L317.50,252.37 L317.50,252.81 L317.75,252.81 L317.75,251.28 L318.00,251.28 L318.00,251.37 L318.25,251.37 L318.25,252.32 L318.50,252.32 L318.50,252.21 L318.75,252.21 L318.75,251.47 L319.00,251.47 L319.00,251.32 L319.25,251.32 L319.25,252.63 L319.50,252.63 L319.50,250.42 L319.75,250.42 L319.75,252.47 L320.00,252.47 L320.00,251.71 L320.25,251.71 L320.25,252.88 L320.50,252.88 L320.50,253.04 L320.75,253.04 L320.75,249.86 L321.00,249.86 L321.00,251.48 L321.25,251.48 L321.25,251.64 L321.50,251.64 L321.50,253.39 L321.75,253.39 L321.75,253.45 L322.00,253.45 L322.00,253.31 L322.25,253.31 L322.25,253.31 L322.50,253.31 L322.50,253.17 L322.75,253.17 L322.75,253.06 L323.00,253.06 L323.00,253.73 L323.25,253.73 L323.25,253.33 L323.50,253.33 L323.50,252.48 L323.75,252.48 L323.75,253.69 L324.00,253.69 L324.00,251.46 L324.25,251.46 L324.25,252.90 L324.50,252.90 L324.50,252.37 L324.75,252.37 L324.75,253.78 L325.00,253.78 L325.00,253.45 L325.25,253.45 L325.25,252.69 L325.50,252.69 L325.50,253.76 L325.75,253.76 L325.75,254.42 L326.00,254.42 L326.00,251.96 L326.25,251.96 L326.25,252.44 L326.50,252.44 L326.50,254.12 L326.75,254.12 L326.75,254.59 L327.00,254.59 L327.00,252.01 L327.25,252.01 L327.25,253.46 L327.50,253.46 L327.50,254.76 L327.75,254.76 L327.75,254.49 L328.00,254.49 L328.00,254.77 L328.25,254.77 L328.25,252.80 L328.50,252.80 L328.50,254.72 L328.75,254.72 L328.75,251.67 L329.00,251.67 L329.00,253.23 L329.25,253.23 L329.25,255.10 L329.50,255.10 L329.50,253.62 L329.75,253.62 L329.75,254.64 L330.00,254.64 L330.00,253.47 L330.25,253.47 L330.25,252.99 L330.50,252.99 L330.50,255.05 L330.75,255.05 L330.75,255.44 L331.00,255.44 L331.00,251.53 L331.25,251.53 L331.25,254.92 L331.50,254.92 L331.50,252.02 L331.75,252.02 L331.75,254.16 L332.00,254.16 L332.00,253.98 L332.25,253.98 L332.25,253.44 L332.50,253.44 L332.50,254.59 L332.75,254.59 L332.75,255.19 L333.00,255.19 L333.00,256.01 L333.25,256.01 L333.25,254.47 L333.50,254.47 L333.50,255.42 L333.75,255.42 L333.75,255.26 L334.00,255.26 L334.00,252.63 L334.25,252.63 L334.25,256.19 L334.50,256.19 L334.50,254.43 L334.75,254.43 L334.75,256.43 L335.00,256.43 L335.00,254.85 L335.25,254.85 L335.25,254.31 L335.50,254.31 L335.50,256.24 L335.75,256.24 L335.75,255.62 L336.00,255.62 L336.00,251.90 L336.25,251.90 L336.25,255.42 L336.50,255.42 L336.50,255.80 L336.75,255.80 L336.75,256.55 L337.00,256.55 L337.00,256.92 L337.25,256.92 L337.25,256.45 L337.50,256.45 L337.50,256.38 L337.75,256.38 L337.75,256.87 L338.00,256.87 L338.00,256.72 L338.25,256.72 L338.25,257.09 L338.50,257.09 L338.50,255.64 L338.75,255.64 L338.75,255.86 L339.00,255.86 L339.00,257.09 L339.25,257.09 L339.25,257.14 L339.50,257.14 L339.50,256.57 L339.75,256.57 L339.75,256.82 L340.00,256.82 L340.00,253.85 L340.25,253.85 L340.25,257.15 L340.50,257.15 L340.50,257.32 L340.75,257.32 L340.75,254.85 L341.00,254.85 L341.00,257.72 L341.25,257.72 L341.25,256.83 L341.50,256.83 L341.50,257.48 L341.75,257.48 L341.75,255.74 L342.00,255.74 L342.00,257.05 L342.25,257.05 L342.25,256.22 L342.50,256.22 L342.50,258.02 L342.75,258.02 L342.75,256.80 L343.00,256.80 L343.00,257.11 L343.25,257.11 L343.25,257.58 L343.50,257.58 L343.50,256.47 L343.75,256.47 L343.75,256.07 L344.00,256.07 L344.00,258.45 L344.25,258.45 L344.25,258.20 L344.50,258.20 L344.50,258.11 L344.75,258.11 L344.75,258.47 L345.00,258.47 L345.00,258.76 L345.25,258.76 L345.25,258.45 L345.50,258.45 L345.50,258.66 L345.75,258.66 L345.75,257.33 L346.00,257.33 L346.00,258.25 L346.25,258.25 L346.25,258.97 L346.50,258.97 L346.50,258.65 L346.75,258.65 L346.75,258.37 L347.00,258.37 L347.00,258.68 L347.25,258.68 L347.25,259.11 L347.50,259.11 L347.50,259.32 L347.75,259.32 L347.75,259.47 L348.00,259.47 L348.00,253.54 L348.25,253.54 L348.25,257.65 L348.50,257.65 L348.50,259.53 L348.75,259.53 L348.75,257.94 L349.00,257.94 L349.00,254.28 L349.25,254.28 L349.25,258.67 L349.50,258.67 L349.50,259.72 L349.75,259.72 L349.75,259.00 L350.00,259.00 L350.00,259.20 L350.25,259.20 L350.25,259.74 L350.50,259.74 L350.50,258.98 L350.75,258.98 L350.75,260.10 L351.00,260.10 L351.00,256.62 L351.25,256.62 L351.25,258.74 L351.50,258.74 L351.50,258.84 L351.75,258.84 L351.75,256.43 L352.00,256.43 L352.00,258.82 L352.25,258.82 L352.25,259.93 L352.50,259.93 L352.50,259.98 L352.75,259.98 L352.75,260.20 L353.00,260.20 L353.00,260.41 L353.25,260.41 L353.25,258.40 L353.50,258.40 L353.50,257.96 L353.75,257.96 L353.75,260.07 L354.00,260.07 L354.00,260.31 L354.25,260.31 L354.25,259.21 L354.50,259.21 L354.50,258.06 L354.75,258.06 L354.75,257.05 L355.00,257.05 L355.00,260.49 L355.25,260.49 L355.25,258.64 L355.50,258.64 L355.50,258.34 L355.75,258.34 L355.75,258.96 L356.00,258.96 L356.00,260.35 L356.25,260.35 L356.25,260.65 L356.50,260.65 L356.50,258.53 L356.75,258.53 L356.75,260.47 L357.00,260.47 L357.00,260.41 L357.25,260.41 L357.25,259.97 L357.50,259.97 L357.50,260.48 L357.75,260.48 L357.75,258.67 L358.00,258.67 L358.00,260.82 L358.25,260.82 L358.25,261.18 L358.50,261.18 L358.50,260.10 L358.75,260.10 L358.75,259.93 L359.00,259.93 L359.00,258.95 L359.25,258.95 L359.25,259.68 L359.50,259.68 L359.50,258.13 L359.75,258.13 L359.75,257.40 L360.00,257.40 L360.00,260.55 L360.25,260.55 L360.25,260.59 L360.50,260.59 L360.50,261.38 L360.75,261.38 L360.75,261.17 L361.00,261.17 L361.00,260.51 L361.25,260.51 L361.25,261.67 L361.50,261.67 L361.50,260.21 L361.75,260.21 L361.75,261.65 L362.00,261.65 L362.00,261.14 L362.25,261.14 L362.25,257.12 L362.50,257.12 L362.50,261.94 L362.75,261.94 L362.75,262.08 L363.00,262.08 L363.00,261.38 L363.25,261.38 L363.25,261.95 L363.50,261.95 L363.50,260.51 L363.75,260.51 L363.75,262.36 L364.00,262.36 L364.00,259.85 L364.25,259.85 L364.25,259.77 L364.50,259.77 L364.50,260.37 L364.75,260.37 L364.75,261.82 L365.00,261.82 L365.00,262.18 L365.25,262.18 L365.25,261.19 L365.50,261.19 L365.50,261.75 L365.75,261.75 L365.75,262.06 L366.00,262.06 L366.00,262.30 L366.25,262.30 L366.25,262.13 L366.50,262.13 L366.50,261.46 L366.75,261.46 L366.75,260.60 L367.00,260.60 L367.00,259.83 L367.25,259.83 L367.25,262.92 L367.50,262.92 L367.50,262.73 L367.75,262.73 L367.75,262.46 L368.00,262.46 L368.00,262.18 L368.25,262.18 L368.25,262.80 L368.50,262.80 L368.50,263.15 L368.75,263.15 L368.75,263.39 L369.00,263.39 L369.00,263.02 L369.25,263.02 L369.25,262.76 L369.50,262.76 L369.50,258.71 L369.75,258.71 L369.75,260.39 L370.00,260.39 L370.00,260.99 L370.25,260.99 L370.25,258.75 L370.50,258.75 L370.50,259.38 L370.75,259.38 L370.75,262.68 L371.00,262.68 L371.00,261.78 L371.25,261.78 L371.25,264.10 L371.50,264.10 L371.50,262.69 L371.75,262.69 L371.75,263.03 L372.00,263.03 L372.00,263.93 L372.25,263.93 L372.25,263.31 L372.50,263.31 L372.50,260.30 L372.75,260.30 L372.75,263.74 L373.00,263.74 L373.00,263.27 L373.25,263.27 L373.25,264.31 L373.50,264.31 L373.50,264.30 L373.75,264.30 L373.75,261.93 L374.00,261.93 L374.00,265.00 L374.25,265.00 L374.25,264.82 L374.50,264.82 L374.50,263.61 L374.75,263.61 L374.75,264.44 L375.00,264.44 L375.00,265.23 L375.25,265.23 L375.25,263.92 L375.50,263.92 L375.50,264.85 L375.75,264.85 L375.75,264.37 L376.00,264.37 L376.00,264.91 L376.25,264.91 L376.25,264.68 L376.50,264.68 L376.50,264.65 L376.75,264.65 L376.75,265.19 L377.00,265.19 L377.00,265.80 L377.25,265.80 L377.25,265.77 L377.50,265.77 L377.50,263.03 L377.75,263.03 L377.75,265.09 L378.00,265.09 L378.00,266.11 L378.25,266.11 L378.25,263.58 L378.50,263.58 L378.50,266.03 L378.75,266.03 L378.75,266.37 L379.00,266.37 L379.00,265.53 L379.25,265.53 L379.25,266.26 L379.50,266.26 L379.50,265.80 L379.75,265.80 L379.75,265.69 L380.00,265.69 L380.00,266.54 L380.25,266.54 L380.25,265.82 L380.50,265.82 L380.50,266.95 L380.75,266.95 L380.75,266.22 L381.00,266.22 L381.00,266.10 L381.25,266.10 L381.25,267.33 L381.50,267.33 L381.50,266.83 L381.75,266.83 L381.75,267.56 L382.00,267.56 L382.00,266.97 L382.25,266.97 L382.25,265.10 L382.50,265.10 L382.50,266.88 L382.75,266.88 L382.75,266.35 L383.00,266.35 L383.00,266.24 L383.25,266.24 L383.25,268.16 L383.50,268.16 L383.50,262.44 L383.75,262.44 L383.75,266.76 L384.00,266.76 L384.00,268.51 L384.25,268.51 L384.25,266.29 L384.50,266.29 L384.50,268.18 L384.75,268.18 L384.75,268.73 L385.00,268.73 L385.00,264.59 L385.25,264.59 L385.25,268.26 L385.50,268.26 L385.50,267.65 L385.75,267.65 L385.75,269.84 L386.00,269.84 L386.00,268.27 L386.25,268.27 L386.25,270.60 L386.50,270.60 L386.50,270.62 L386.75,270.62 L386.75,270.66 L387.00,270.66 L387.00,271.61 L387.25,271.61 L387.25,270.69 L387.50,270.69 L387.50,271.93 L387.75,271.93 L387.75,272.08 L388.00,272.08 L388.00,271.18 L388.25,271.18 L388.25,272.99 L388.50,272.99 L388.50,271.55 L388.75,271.55 L388.75,274.13 L389.00,274.13 L389.00,273.47 L389.25,273.47 L389.25,276.05 L389.50,276.05 L389.50,274.58 L389.75,274.58 L389.75,276.07 L390.00,276.07 L390.00,279.54 L390.25,279.54 L390.25,280.08 L390.50,280.08 L390.50,283.62 L390.75,283.62 L390.75,284.38 L391.00,284.38 L391.00,295.6 Z"/><rect x="63.80" y="206.75" width="1.80" height="88.85" fill="#111"/><rect x="66.80" y="211.08" width="1.60" height="84.52" fill="#303030"/><rect x="70.00" y="213.30" width="1.00" height="82.30" fill="#303030"/><rect x="71.00" y="214.08" width="1.60" height="81.52" fill="#888"/><rect x="73.20" y="215.24" width="1.00" height="80.36" fill="#303030"/><rect x="77.40" y="217.62" width="0.80" height="77.98" fill="#303030"/><rect x="78.70" y="218.38" width="2.00" height="77.22" fill="#5a5a5a"/><rect x="87.00" y="221.61" width="3.30" height="73.99" fill="#8a8a8a"/><rect x="90.30" y="222.35" width="1.30" height="73.25" fill="#303030"/><rect x="92.90" y="223.30" width="3.40" height="72.30" fill="#6a6a6a"/><rect x="96.80" y="224.12" width="2.40" height="71.48" fill="#303030"/><rect x="98.00" y="224.22" width="0.80" height="71.38" fill="#777"/><rect x="99.20" y="224.53" width="1.00" height="71.07" fill="#303030"/><rect x="103.80" y="225.61" width="0.80" height="69.99" fill="#303030"/><rect x="105.40" y="225.99" width="1.30" height="69.61" fill="#303030"/><rect x="111.20" y="227.03" width="1.30" height="68.57" fill="#777"/><rect x="117.70" y="228.38" width="1.10" height="67.22" fill="#5a5a5a"/><rect x="121.20" y="229.09" width="1.50" height="66.51" fill="#1a1a1a"/><rect x="129.00" y="230.25" width="1.40" height="65.35" fill="#303030"/><rect x="140.80" y="232.50" width="1.30" height="63.10" fill="#303030"/><rect x="145.00" y="233.35" width="1.00" height="62.25" fill="#303030"/><rect x="160.00" y="235.48" width="1.30" height="60.12" fill="#5a5a5a"/><rect x="174.00" y="237.27" width="1.50" height="58.33" fill="#303030"/><rect x="179.10" y="237.84" width="0.80" height="57.76" fill="#5a5a5a"/><rect x="181.00" y="238.10" width="1.30" height="57.50" fill="#777"/><rect x="187.40" y="238.93" width="2.30" height="56.67" fill="#303030"/><rect x="194.90" y="239.87" width="3.10" height="55.73" fill="#181818"/><rect x="199.20" y="240.28" width="1.20" height="55.32" fill="#5a5a5a"/><rect x="201.20" y="240.42" width="1.60" height="55.18" fill="#303030"/><rect x="224.80" y="242.08" width="1.20" height="53.52" fill="#303030"/><rect x="230.20" y="242.50" width="1.30" height="53.10" fill="#777"/><rect x="239.80" y="243.65" width="1.20" height="51.95" fill="#303030"/><rect x="250.90" y="244.89" width="1.10" height="50.71" fill="#303030"/><rect x="254.80" y="245.12" width="1.20" height="50.48" fill="#303030"/><rect x="276.10" y="247.11" width="1.60" height="48.49" fill="#5a5a5a"/><rect x="284.20" y="247.71" width="1.80" height="47.89" fill="#303030"/><rect x="328.00" y="254.16" width="1.00" height="41.45" fill="#303030"/><rect x="333.60" y="255.44" width="1.00" height="40.16" fill="#303030"/><rect x="377.00" y="265.22" width="1.00" height="30.38" fill="#303030"/><rect x="379.20" y="265.98" width="1.50" height="29.62" fill="#888"/><line x1="64" y1="104.6" x2="393.4" y2="104.6" stroke="#a8a8a8" stroke-width="1"/><line x1="393.4" y1="104" x2="393.4" y2="106.5" stroke="#999" stroke-width="0.8"/><line x1="64" y1="295.1" x2="391" y2="295.1" stroke="#a8a8a8" stroke-width="1"/><line x1="391" y1="294.5" x2="391" y2="297" stroke="#999" stroke-width="0.8"/><line x1="64.3" y1="0" x2="64.3" y2="105" stroke="#111" stroke-width="1.2"/><line x1="59.599999999999994" y1="9.45" x2="64.3" y2="9.45" stroke="#222" stroke-width="1"/><line x1="61.3" y1="3.72" x2="64.3" y2="3.72" stroke="#444" stroke-width="0.8"/><line x1="61.3" y1="0.37" x2="64.3" y2="0.37" stroke="#444" stroke-width="0.8"/><line x1="59.599999999999994" y1="28.48" x2="64.3" y2="28.48" stroke="#222" stroke-width="1"/><line x1="61.3" y1="22.75" x2="64.3" y2="22.75" stroke="#444" stroke-width="0.8"/><line x1="61.3" y1="19.40" x2="64.3" y2="19.40" stroke="#444" stroke-width="0.8"/><line x1="61.3" y1="17.02" x2="64.3" y2="17.02" stroke="#444" stroke-width="0.8"/><line x1="61.3" y1="15.18" x2="64.3" y2="15.18" stroke="#444" stroke-width="0.8"/><line x1="61.3" y1="13.67" x2="64.3" y2="13.67" stroke="#444" stroke-width="0.8"/><line x1="61.3" y1="12.40" x2="64.3" y2="12.40" stroke="#444" stroke-width="0.8"/><line x1="61.3" y1="11.29" x2="64.3" y2="11.29" stroke="#444" stroke-width="0.8"/><line x1="61.3" y1="10.32" x2="64.3" y2="10.32" stroke="#444" stroke-width="0.8"/><line x1="59.599999999999994" y1="47.51" x2="64.3" y2="47.51" stroke="#222" stroke-width="1"/><line x1="61.3" y1="41.78" x2="64.3" y2="41.78" stroke="#444" stroke-width="0.8"/><line x1="61.3" y1="38.43" x2="64.3" y2="38.43" stroke="#444" stroke-width="0.8"/><line x1="61.3" y1="36.05" x2="64.3" y2="36.05" stroke="#444" stroke-width="0.8"/><line x1="61.3" y1="34.21" x2="64.3" y2="34.21" stroke="#444" stroke-width="0.8"/><line x1="61.3" y1="32.70" x2="64.3" y2="32.70" stroke="#444" stroke-width="0.8"/><line x1="61.3" y1="31.43" x2="64.3" y2="31.43" stroke="#444" stroke-width="0.8"/><line x1="61.3" y1="30.32" x2="64.3" y2="30.32" stroke="#444" stroke-width="0.8"/><line x1="61.3" y1="29.35" x2="64.3" y2="29.35" stroke="#444" stroke-width="0.8"/><line x1="59.599999999999994" y1="66.54" x2="64.3" y2="66.54" stroke="#222" stroke-width="1"/><line x1="61.3" y1="60.81" x2="64.3" y2="60.81" stroke="#444" stroke-width="0.8"/><line x1="61.3" y1="57.46" x2="64.3" y2="57.46" stroke="#444" stroke-width="0.8"/><line x1="61.3" y1="55.08" x2="64.3" y2="55.08" stroke="#444" stroke-width="0.8"/><line x1="61.3" y1="53.24" x2="64.3" y2="53.24" stroke="#444" stroke-width="0.8"/><line x1="61.3" y1="51.73" x2="64.3" y2="51.73" stroke="#444" stroke-width="0.8"/><line x1="61.3" y1="50.46" x2="64.3" y2="50.46" stroke="#444" stroke-width="0.8"/><line x1="61.3" y1="49.35" x2="64.3" y2="49.35" stroke="#444" stroke-width="0.8"/><line x1="61.3" y1="48.38" x2="64.3" y2="48.38" stroke="#444" stroke-width="0.8"/><line x1="59.599999999999994" y1="85.57" x2="64.3" y2="85.57" stroke="#222" stroke-width="1"/><line x1="61.3" y1="79.84" x2="64.3" y2="79.84" stroke="#444" stroke-width="0.8"/><line x1="61.3" y1="76.49" x2="64.3" y2="76.49" stroke="#444" stroke-width="0.8"/><line x1="61.3" y1="74.11" x2="64.3" y2="74.11" stroke="#444" stroke-width="0.8"/><line x1="61.3" y1="72.27" x2="64.3" y2="72.27" stroke="#444" stroke-width="0.8"/><line x1="61.3" y1="70.76" x2="64.3" y2="70.76" stroke="#444" stroke-width="0.8"/><line x1="61.3" y1="69.49" x2="64.3" y2="69.49" stroke="#444" stroke-width="0.8"/><line x1="61.3" y1="68.38" x2="64.3" y2="68.38" stroke="#444" stroke-width="0.8"/><line x1="61.3" y1="67.41" x2="64.3" y2="67.41" stroke="#444" stroke-width="0.8"/><line x1="59.599999999999994" y1="104.60" x2="64.3" y2="104.60" stroke="#222" stroke-width="1"/><line x1="61.3" y1="98.87" x2="64.3" y2="98.87" stroke="#444" stroke-width="0.8"/><line x1="61.3" y1="95.52" x2="64.3" y2="95.52" stroke="#444" stroke-width="0.8"/><line x1="61.3" y1="93.14" x2="64.3" y2="93.14" stroke="#444" stroke-width="0.8"/><line x1="61.3" y1="91.30" x2="64.3" y2="91.30" stroke="#444" stroke-width="0.8"/><line x1="61.3" y1="89.79" x2="64.3" y2="89.79" stroke="#444" stroke-width="0.8"/><line x1="61.3" y1="88.52" x2="64.3" y2="88.52" stroke="#444" stroke-width="0.8"/><line x1="61.3" y1="87.41" x2="64.3" y2="87.41" stroke="#444" stroke-width="0.8"/><line x1="61.3" y1="86.44" x2="64.3" y2="86.44" stroke="#444" stroke-width="0.8"/><line x1="63.8" y1="191.1" x2="63.8" y2="295" stroke="#111" stroke-width="1.2"/><line x1="58.199999999999996" y1="191.60" x2="63.8" y2="191.60" stroke="#222" stroke-width="1"/><line x1="58.199999999999996" y1="212.26" x2="63.8" y2="212.26" stroke="#222" stroke-width="1"/><line x1="60.3" y1="206.04" x2="63.8" y2="206.04" stroke="#444" stroke-width="0.8"/><line x1="60.3" y1="202.40" x2="63.8" y2="202.40" stroke="#444" stroke-width="0.8"/><line x1="60.3" y1="199.82" x2="63.8" y2="199.82" stroke="#444" stroke-width="0.8"/><line x1="60.3" y1="197.82" x2="63.8" y2="197.82" stroke="#444" stroke-width="0.8"/><line x1="60.3" y1="196.18" x2="63.8" y2="196.18" stroke="#444" stroke-width="0.8"/><line x1="60.3" y1="194.80" x2="63.8" y2="194.80" stroke="#444" stroke-width="0.8"/><line x1="60.3" y1="193.60" x2="63.8" y2="193.60" stroke="#444" stroke-width="0.8"/><line x1="60.3" y1="192.55" x2="63.8" y2="192.55" stroke="#444" stroke-width="0.8"/><line x1="58.199999999999996" y1="232.92" x2="63.8" y2="232.92" stroke="#222" stroke-width="1"/><line x1="60.3" y1="226.70" x2="63.8" y2="226.70" stroke="#444" stroke-width="0.8"/><line x1="60.3" y1="223.06" x2="63.8" y2="223.06" stroke="#444" stroke-width="0.8"/><line x1="60.3" y1="220.48" x2="63.8" y2="220.48" stroke="#444" stroke-width="0.8"/><line x1="60.3" y1="218.48" x2="63.8" y2="218.48" stroke="#444" stroke-width="0.8"/><line x1="60.3" y1="216.84" x2="63.8" y2="216.84" stroke="#444" stroke-width="0.8"/><line x1="60.3" y1="215.46" x2="63.8" y2="215.46" stroke="#444" stroke-width="0.8"/><line x1="60.3" y1="214.26" x2="63.8" y2="214.26" stroke="#444" stroke-width="0.8"/><line x1="60.3" y1="213.21" x2="63.8" y2="213.21" stroke="#444" stroke-width="0.8"/><line x1="58.199999999999996" y1="253.58" x2="63.8" y2="253.58" stroke="#222" stroke-width="1"/><line x1="60.3" y1="247.36" x2="63.8" y2="247.36" stroke="#444" stroke-width="0.8"/><line x1="60.3" y1="243.72" x2="63.8" y2="243.72" stroke="#444" stroke-width="0.8"/><line x1="60.3" y1="241.14" x2="63.8" y2="241.14" stroke="#444" stroke-width="0.8"/><line x1="60.3" y1="239.14" x2="63.8" y2="239.14" stroke="#444" stroke-width="0.8"/><line x1="60.3" y1="237.50" x2="63.8" y2="237.50" stroke="#444" stroke-width="0.8"/><line x1="60.3" y1="236.12" x2="63.8" y2="236.12" stroke="#444" stroke-width="0.8"/><line x1="60.3" y1="234.92" x2="63.8" y2="234.92" stroke="#444" stroke-width="0.8"/><line x1="60.3" y1="233.87" x2="63.8" y2="233.87" stroke="#444" stroke-width="0.8"/><line x1="58.199999999999996" y1="274.24" x2="63.8" y2="274.24" stroke="#222" stroke-width="1"/><line x1="60.3" y1="268.02" x2="63.8" y2="268.02" stroke="#444" stroke-width="0.8"/><line x1="60.3" y1="264.38" x2="63.8" y2="264.38" stroke="#444" stroke-width="0.8"/><line x1="60.3" y1="261.80" x2="63.8" y2="261.80" stroke="#444" stroke-width="0.8"/><line x1="60.3" y1="259.80" x2="63.8" y2="259.80" stroke="#444" stroke-width="0.8"/><line x1="60.3" y1="258.16" x2="63.8" y2="258.16" stroke="#444" stroke-width="0.8"/><line x1="60.3" y1="256.78" x2="63.8" y2="256.78" stroke="#444" stroke-width="0.8"/><line x1="60.3" y1="255.58" x2="63.8" y2="255.58" stroke="#444" stroke-width="0.8"/><line x1="60.3" y1="254.53" x2="63.8" y2="254.53" stroke="#444" stroke-width="0.8"/><line x1="58.199999999999996" y1="294.90" x2="63.8" y2="294.90" stroke="#222" stroke-width="1"/><line x1="60.3" y1="288.68" x2="63.8" y2="288.68" stroke="#444" stroke-width="0.8"/><line x1="60.3" y1="285.04" x2="63.8" y2="285.04" stroke="#444" stroke-width="0.8"/><line x1="60.3" y1="282.46" x2="63.8" y2="282.46" stroke="#444" stroke-width="0.8"/><line x1="60.3" y1="280.46" x2="63.8" y2="280.46" stroke="#444" stroke-width="0.8"/><line x1="60.3" y1="278.82" x2="63.8" y2="278.82" stroke="#444" stroke-width="0.8"/><line x1="60.3" y1="277.44" x2="63.8" y2="277.44" stroke="#444" stroke-width="0.8"/><line x1="60.3" y1="276.24" x2="63.8" y2="276.24" stroke="#444" stroke-width="0.8"/><line x1="60.3" y1="275.19" x2="63.8" y2="275.19" stroke="#444" stroke-width="0.8"/></g>
<text x="58.3" y="12.05" text-anchor="end" font-size="11.8" letter-spacing="-0.3" font-family="Liberation Sans, sans-serif" stroke="#000">1</text><text x="58.3" y="32.68" text-anchor="end" font-size="11.8" letter-spacing="-0.3" font-family="Liberation Sans, sans-serif" stroke="#000">0.1</text><text x="58.3" y="51.71" text-anchor="end" font-size="11.8" letter-spacing="-0.3" font-family="Liberation Sans, sans-serif" stroke="#000">0.01</text><text x="58.3" y="70.74" text-anchor="end" font-size="11.8" letter-spacing="-0.3" font-family="Liberation Sans, sans-serif" stroke="#000">0.001</text><text x="58.3" y="89.77" text-anchor="end" font-size="11.8" letter-spacing="-0.3" font-family="Liberation Sans, sans-serif" stroke="#000">0.0001</text><text x="58.3" y="108.80" text-anchor="end" font-size="11.8" letter-spacing="-0.3" font-family="Liberation Sans, sans-serif" stroke="#000">0.00001</text><text x="51.4" y="194.60" text-anchor="end" font-size="12.2" letter-spacing="-0.9" font-family="Liberation Sans, sans-serif" stroke="#000">10</text><text x="51.5" y="188.60" font-size="8.8" font-family="Liberation Sans, sans-serif" stroke="#000">8</text><text x="51.4" y="215.26" text-anchor="end" font-size="12.2" letter-spacing="-0.9" font-family="Liberation Sans, sans-serif" stroke="#000">10</text><text x="51.5" y="209.26" font-size="8.8" font-family="Liberation Sans, sans-serif" stroke="#000">7</text><text x="51.4" y="235.92" text-anchor="end" font-size="12.2" letter-spacing="-0.9" font-family="Liberation Sans, sans-serif" stroke="#000">10</text><text x="51.5" y="229.92" font-size="8.8" font-family="Liberation Sans, sans-serif" stroke="#000">6</text><text x="51.4" y="256.58" text-anchor="end" font-size="12.2" letter-spacing="-0.9" font-family="Liberation Sans, sans-serif" stroke="#000">10</text><text x="51.5" y="250.58" font-size="8.8" font-family="Liberation Sans, sans-serif" stroke="#000">5</text><text x="51.4" y="277.24" text-anchor="end" font-size="12.2" letter-spacing="-0.9" font-family="Liberation Sans, sans-serif" stroke="#000">10</text><text x="51.5" y="271.24" font-size="8.8" font-family="Liberation Sans, sans-serif" stroke="#000">4</text><text x="51.4" y="297.90" text-anchor="end" font-size="12.2" letter-spacing="-0.9" font-family="Liberation Sans, sans-serif" stroke="#000">10</text><text x="51.5" y="291.90" font-size="8.8" font-family="Liberation Sans, sans-serif" stroke="#000">3</text><text transform="translate(10.6,88.9) rotate(-90)" font-size="13.4" font-family="Liberation Sans, sans-serif" stroke="#000">Mass<tspan dx="1.5"> ( %</tspan><tspan dx="1.0">)</tspan></text><text transform="translate(11,282.8) rotate(-90)" font-size="14" font-family="Liberation Sans, sans-serif" stroke="#000">Copy number</text><text x="191.3" y="124.5" font-size="14" font-family="Liberation Sans, sans-serif" stroke="#000">Proteins</text><text x="191.3" y="321" font-size="14" font-family="Liberation Sans, sans-serif" stroke="#000">Proteins</text><text x="378.8" y="119.7" font-size="11.8" letter-spacing="-0.1" font-family="Liberation Sans, sans-serif" stroke="#000">1564</text><text x="382.0" y="307.1" font-size="11.6" letter-spacing="-0.7" font-family="Liberation Sans, sans-serif" stroke="#000">1525</text><text x="1.3" y="17.4" font-size="18.3" font-family="Liberation Sans, sans-serif" stroke="#000">A</text><text x="435.5" y="17.4" font-size="18.3" font-family="Liberation Sans, sans-serif" stroke="#000">B</text><rect x="273" y="2.5" width="20.5" height="10" fill="#000"/><rect x="273.5" y="17.2" width="19.5" height="10" fill="#c6c6c6" stroke="#aaa" stroke-width="0.8"/><text x="296.5" y="11.4" font-size="11.8" font-family="Liberation Sans, sans-serif" stroke="#000">Chaperome (8.8%)</text><text x="296.5" y="26.2" font-size="11.8" font-family="Liberation Sans, sans-serif" stroke="#000">Others (64.2%)</text><rect x="273" y="196.0" width="20.5" height="10" fill="#000"/><rect x="273.5" y="210.7" width="19.5" height="10" fill="#c6c6c6" stroke="#aaa" stroke-width="0.8"/><text x="296.5" y="204.9" font-size="11.8" font-family="Liberation Sans, sans-serif" stroke="#000">Chaperome (6.3%)</text><text x="296.5" y="219.7" font-size="11.8" font-family="Liberation Sans, sans-serif" stroke="#000">Others (69.6%)</text>
</svg>
</body></html>
